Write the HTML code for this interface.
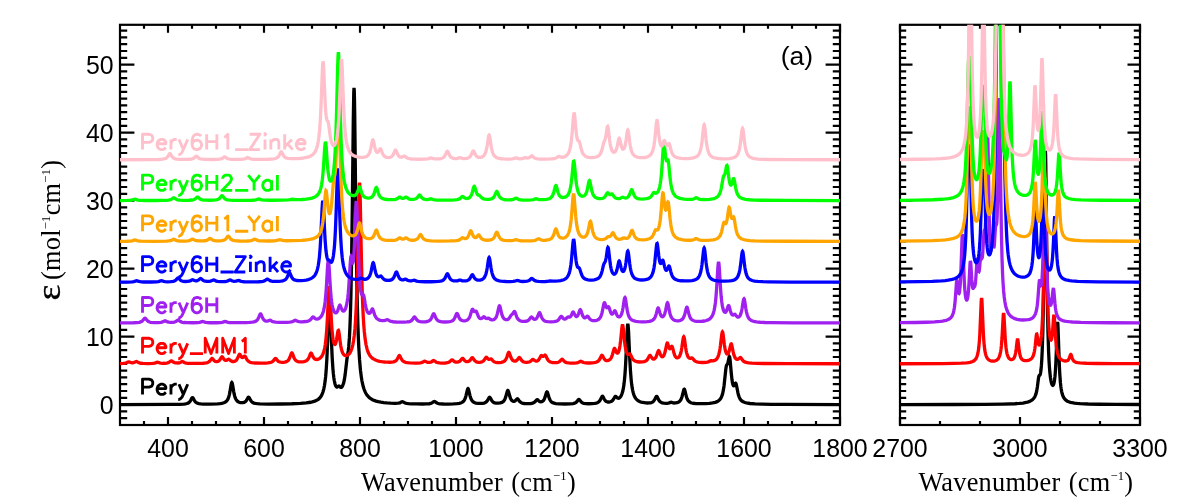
<!DOCTYPE html>
<html><head><meta charset="utf-8"><title>Spectra</title>
<style>html,body{margin:0;padding:0;background:#fff;}body{width:1200px;height:500px;overflow:hidden;position:relative;font-family:"Liberation Sans",sans-serif;}</style>
</head><body>
<svg width="1200" height="500" viewBox="0 0 1200 500" style="position:absolute;left:0;top:0;will-change:transform">
<defs><clipPath id="c1"><rect x="120.00" y="24.80" width="720.00" height="400.20"/></clipPath>
<clipPath id="c2"><rect x="900.00" y="24.80" width="240.00" height="400.20"/></clipPath></defs>
<rect width="1200" height="500" fill="#fff"/>
<g fill="none" stroke-width="2.85" stroke-linejoin="round" stroke-linecap="butt">
<path stroke="#000000" d="M142.52 394.40L142.52 379.09L149.08 379.09L151.26 379.82L151.99 380.55L152.72 382.01L152.72 384.19L151.99 385.65L151.26 386.38L149.08 387.11L142.52 387.11M157.10 388.57L165.84 388.57L165.84 387.11L165.11 385.65L164.39 384.92L162.93 384.19L160.74 384.19L159.28 384.92L157.82 386.38L157.10 388.57L157.10 390.03L157.82 392.21L159.28 393.67L160.74 394.40L162.93 394.40L164.39 393.67L165.84 392.21M170.95 384.19L170.95 394.40M170.95 388.57L171.68 386.38L173.13 384.92L174.59 384.19L176.78 384.19M178.97 384.19L183.34 394.40M187.71 384.19L183.34 394.40L181.88 397.32L180.42 398.77L178.97 399.50L178.24 399.50"/>
<path stroke="#ff0000" d="M142.52 353.60L142.52 338.29L149.08 338.29L151.26 339.02L151.99 339.75L152.72 341.21L152.72 343.39L151.99 344.85L151.26 345.58L149.08 346.31L142.52 346.31M157.10 347.77L165.84 347.77L165.84 346.31L165.11 344.85L164.39 344.12L162.93 343.39L160.74 343.39L159.28 344.12L157.82 345.58L157.10 347.77L157.10 349.23L157.82 351.41L159.28 352.87L160.74 353.60L162.93 353.60L164.39 352.87L165.84 351.41M170.95 343.39L170.95 353.60M170.95 347.77L171.68 345.58L173.13 344.12L174.59 343.39L176.78 343.39M178.97 343.39L183.34 353.60M187.71 343.39L183.34 353.60L181.88 356.52L180.42 357.97L178.97 358.70L178.24 358.70M189.90 353.60L203.02 353.60M205.21 353.60L205.21 338.29L211.04 353.60L216.87 338.29L216.87 353.60M222.71 353.60L222.71 338.29L228.54 353.60L234.37 338.29L234.37 353.60M241.66 341.21L243.12 340.48L245.31 338.29L245.31 353.60"/>
<path stroke="#a020f0" d="M142.52 312.80L142.52 297.49L149.08 297.49L151.26 298.22L151.99 298.95L152.72 300.41L152.72 302.59L151.99 304.05L151.26 304.78L149.08 305.51L142.52 305.51M157.10 306.97L165.84 306.97L165.84 305.51L165.11 304.05L164.39 303.32L162.93 302.59L160.74 302.59L159.28 303.32L157.82 304.78L157.10 306.97L157.10 308.43L157.82 310.61L159.28 312.07L160.74 312.80L162.93 312.80L164.39 312.07L165.84 310.61M170.95 302.59L170.95 312.80M170.95 306.97L171.68 304.78L173.13 303.32L174.59 302.59L176.78 302.59M178.97 302.59L183.34 312.80M187.71 302.59L183.34 312.80L181.88 315.72L180.42 317.17L178.97 317.90L178.24 317.90M200.84 299.68L200.11 298.22L197.92 297.49L196.46 297.49L194.28 298.22L192.82 300.41L192.09 304.05L192.09 307.70L192.82 310.61L194.28 312.07L196.46 312.80L197.19 312.80L199.38 312.07L200.84 310.61L201.56 308.43L201.56 307.70L200.84 305.51L199.38 304.05L197.19 303.32L196.46 303.32L194.28 304.05L192.82 305.51L192.09 307.70M206.67 297.49L206.67 312.80M216.87 297.49L216.87 312.80M206.67 304.78L216.87 304.78"/>
<path stroke="#0000ff" d="M142.52 272.00L142.52 256.69L149.08 256.69L151.26 257.42L151.99 258.15L152.72 259.61L152.72 261.79L151.99 263.25L151.26 263.98L149.08 264.71L142.52 264.71M157.10 266.17L165.84 266.17L165.84 264.71L165.11 263.25L164.39 262.52L162.93 261.79L160.74 261.79L159.28 262.52L157.82 263.98L157.10 266.17L157.10 267.63L157.82 269.81L159.28 271.27L160.74 272.00L162.93 272.00L164.39 271.27L165.84 269.81M170.95 261.79L170.95 272.00M170.95 266.17L171.68 263.98L173.13 262.52L174.59 261.79L176.78 261.79M178.97 261.79L183.34 272.00M187.71 261.79L183.34 272.00L181.88 274.92L180.42 276.37L178.97 277.10L178.24 277.10M200.84 258.88L200.11 257.42L197.92 256.69L196.46 256.69L194.28 257.42L192.82 259.61L192.09 263.25L192.09 266.90L192.82 269.81L194.28 271.27L196.46 272.00L197.19 272.00L199.38 271.27L200.84 269.81L201.56 267.63L201.56 266.90L200.84 264.71L199.38 263.25L197.19 262.52L196.46 262.52L194.28 263.25L192.82 264.71L192.09 266.90M206.67 256.69L206.67 272.00M216.87 256.69L216.87 272.00M206.67 263.98L216.87 263.98M220.52 272.00L233.64 272.00M235.10 256.69L245.31 256.69L235.10 272.00L245.31 272.00M249.68 256.69L250.41 257.42L251.14 256.69L250.41 255.96L249.68 256.69M250.41 261.79L250.41 272.00M256.24 261.79L256.24 272.00M256.24 264.71L258.43 262.52L259.89 261.79L262.07 261.79L263.53 262.52L264.26 264.71L264.26 272.00M270.09 256.69L270.09 272.00M277.38 261.79L270.09 269.08M273.01 266.17L278.11 272.00M281.76 266.17L290.50 266.17L290.50 264.71L289.77 263.25L289.05 262.52L287.59 261.79L285.40 261.79L283.94 262.52L282.48 263.98L281.76 266.17L281.76 267.63L282.48 269.81L283.94 271.27L285.40 272.00L287.59 272.00L289.05 271.27L290.50 269.81"/>
<path stroke="#ffa500" d="M142.52 231.20L142.52 215.89L149.08 215.89L151.26 216.62L151.99 217.35L152.72 218.81L152.72 220.99L151.99 222.45L151.26 223.18L149.08 223.91L142.52 223.91M157.10 225.37L165.84 225.37L165.84 223.91L165.11 222.45L164.39 221.72L162.93 220.99L160.74 220.99L159.28 221.72L157.82 223.18L157.10 225.37L157.10 226.83L157.82 229.01L159.28 230.47L160.74 231.20L162.93 231.20L164.39 230.47L165.84 229.01M170.95 220.99L170.95 231.20M170.95 225.37L171.68 223.18L173.13 221.72L174.59 220.99L176.78 220.99M178.97 220.99L183.34 231.20M187.71 220.99L183.34 231.20L181.88 234.12L180.42 235.57L178.97 236.30L178.24 236.30M200.84 218.08L200.11 216.62L197.92 215.89L196.46 215.89L194.28 216.62L192.82 218.81L192.09 222.45L192.09 226.10L192.82 229.01L194.28 230.47L196.46 231.20L197.19 231.20L199.38 230.47L200.84 229.01L201.56 226.83L201.56 226.10L200.84 223.91L199.38 222.45L197.19 221.72L196.46 221.72L194.28 222.45L192.82 223.91L192.09 226.10M206.67 215.89L206.67 231.20M216.87 215.89L216.87 231.20M206.67 223.18L216.87 223.18M224.16 218.81L225.62 218.08L227.81 215.89L227.81 231.20M235.10 231.20L248.22 231.20M248.22 215.89L254.05 223.18L254.05 231.20M259.88 215.89L254.05 223.18M271.55 220.99L271.55 231.20M271.55 223.18L270.09 221.72L268.63 220.99L266.45 220.99L264.99 221.72L263.53 223.18L262.80 225.37L262.80 226.83L263.53 229.01L264.99 230.47L266.45 231.20L268.63 231.20L270.09 230.47L271.55 229.01M277.38 215.89L277.38 231.20"/>
<path stroke="#00ff00" d="M142.52 190.40L142.52 175.09L149.08 175.09L151.26 175.82L151.99 176.55L152.72 178.01L152.72 180.19L151.99 181.65L151.26 182.38L149.08 183.11L142.52 183.11M157.10 184.57L165.84 184.57L165.84 183.11L165.11 181.65L164.39 180.92L162.93 180.19L160.74 180.19L159.28 180.92L157.82 182.38L157.10 184.57L157.10 186.03L157.82 188.21L159.28 189.67L160.74 190.40L162.93 190.40L164.39 189.67L165.84 188.21M170.95 180.19L170.95 190.40M170.95 184.57L171.68 182.38L173.13 180.92L174.59 180.19L176.78 180.19M178.97 180.19L183.34 190.40M187.71 180.19L183.34 190.40L181.88 193.32L180.42 194.77L178.97 195.50L178.24 195.50M200.84 177.28L200.11 175.82L197.92 175.09L196.46 175.09L194.28 175.82L192.82 178.01L192.09 181.65L192.09 185.30L192.82 188.21L194.28 189.67L196.46 190.40L197.19 190.40L199.38 189.67L200.84 188.21L201.56 186.03L201.56 185.30L200.84 183.11L199.38 181.65L197.19 180.92L196.46 180.92L194.28 181.65L192.82 183.11L192.09 185.30M206.67 175.09L206.67 190.40M216.87 175.09L216.87 190.40M206.67 182.38L216.87 182.38M222.71 178.74L222.71 178.01L223.44 176.55L224.16 175.82L225.62 175.09L228.54 175.09L230.00 175.82L230.73 176.55L231.45 178.01L231.45 179.47L230.73 180.92L229.27 183.11L221.98 190.40L232.18 190.40M235.10 190.40L248.22 190.40M248.22 175.09L254.05 182.38L254.05 190.40M259.88 175.09L254.05 182.38M271.55 180.19L271.55 190.40M271.55 182.38L270.09 180.92L268.63 180.19L266.45 180.19L264.99 180.92L263.53 182.38L262.80 184.57L262.80 186.03L263.53 188.21L264.99 189.67L266.45 190.40L268.63 190.40L270.09 189.67L271.55 188.21M277.38 175.09L277.38 190.40"/>
<path stroke="#ffc0cb" d="M142.52 149.60L142.52 134.29L149.08 134.29L151.26 135.02L151.99 135.75L152.72 137.21L152.72 139.39L151.99 140.85L151.26 141.58L149.08 142.31L142.52 142.31M157.10 143.77L165.84 143.77L165.84 142.31L165.11 140.85L164.39 140.12L162.93 139.39L160.74 139.39L159.28 140.12L157.82 141.58L157.10 143.77L157.10 145.23L157.82 147.41L159.28 148.87L160.74 149.60L162.93 149.60L164.39 148.87L165.84 147.41M170.95 139.39L170.95 149.60M170.95 143.77L171.68 141.58L173.13 140.12L174.59 139.39L176.78 139.39M178.97 139.39L183.34 149.60M187.71 139.39L183.34 149.60L181.88 152.52L180.42 153.97L178.97 154.70L178.24 154.70M200.84 136.48L200.11 135.02L197.92 134.29L196.46 134.29L194.28 135.02L192.82 137.21L192.09 140.85L192.09 144.50L192.82 147.41L194.28 148.87L196.46 149.60L197.19 149.60L199.38 148.87L200.84 147.41L201.56 145.23L201.56 144.50L200.84 142.31L199.38 140.85L197.19 140.12L196.46 140.12L194.28 140.85L192.82 142.31L192.09 144.50M206.67 134.29L206.67 149.60M216.87 134.29L216.87 149.60M206.67 141.58L216.87 141.58M224.16 137.21L225.62 136.48L227.81 134.29L227.81 149.60M235.10 149.60L248.22 149.60M249.68 134.29L259.88 134.29L249.68 149.60L259.88 149.60M264.26 134.29L264.99 135.02L265.72 134.29L264.99 133.56L264.26 134.29M264.99 139.39L264.99 149.60M270.82 139.39L270.82 149.60M270.82 142.31L273.01 140.12L274.46 139.39L276.65 139.39L278.11 140.12L278.84 142.31L278.84 149.60M284.67 134.29L284.67 149.60M291.96 139.39L284.67 146.68M287.59 143.77L292.69 149.60M296.33 143.77L305.08 143.77L305.08 142.31L304.35 140.85L303.62 140.12L302.17 139.39L299.98 139.39L298.52 140.12L297.06 141.58L296.33 143.77L296.33 145.23L297.06 147.41L298.52 148.87L299.98 149.60L302.17 149.60L303.62 148.87L305.08 147.41"/>
</g>
<rect x="120.00" y="24.80" width="720.00" height="400.20" fill="none" stroke="#000" stroke-width="2.2" /><path d="M168.00 425.00v-8M168.00 24.80v8M264.00 425.00v-8M264.00 24.80v8M360.00 425.00v-8M360.00 24.80v8M456.00 425.00v-8M456.00 24.80v8M552.00 425.00v-8M552.00 24.80v8M648.00 425.00v-8M648.00 24.80v8M744.00 425.00v-8M744.00 24.80v8M840.00 425.00v-8M840.00 24.80v8M144.00 425.00v-4M144.00 24.80v4M192.00 425.00v-4M192.00 24.80v4M216.00 425.00v-4M216.00 24.80v4M240.00 425.00v-4M240.00 24.80v4M288.00 425.00v-4M288.00 24.80v4M312.00 425.00v-4M312.00 24.80v4M336.00 425.00v-4M336.00 24.80v4M384.00 425.00v-4M384.00 24.80v4M408.00 425.00v-4M408.00 24.80v4M432.00 425.00v-4M432.00 24.80v4M480.00 425.00v-4M480.00 24.80v4M504.00 425.00v-4M504.00 24.80v4M528.00 425.00v-4M528.00 24.80v4M576.00 425.00v-4M576.00 24.80v4M600.00 425.00v-4M600.00 24.80v4M624.00 425.00v-4M624.00 24.80v4M672.00 425.00v-4M672.00 24.80v4M696.00 425.00v-4M696.00 24.80v4M720.00 425.00v-4M720.00 24.80v4M768.00 425.00v-4M768.00 24.80v4M792.00 425.00v-4M792.00 24.80v4M816.00 425.00v-4M816.00 24.80v4M120.00 418.20h7.20M840.00 418.20h-7.20M120.00 411.40h7.20M840.00 411.40h-7.20M120.00 404.60h14.40M840.00 404.60h-14.40M120.00 397.80h7.20M840.00 397.80h-7.20M120.00 391.00h7.20M840.00 391.00h-7.20M120.00 384.20h7.20M840.00 384.20h-7.20M120.00 377.40h7.20M840.00 377.40h-7.20M120.00 370.60h7.20M840.00 370.60h-7.20M120.00 363.80h7.20M840.00 363.80h-7.20M120.00 357.00h7.20M840.00 357.00h-7.20M120.00 350.20h7.20M840.00 350.20h-7.20M120.00 343.40h7.20M840.00 343.40h-7.20M120.00 336.60h14.40M840.00 336.60h-14.40M120.00 329.80h7.20M840.00 329.80h-7.20M120.00 323.00h7.20M840.00 323.00h-7.20M120.00 316.20h7.20M840.00 316.20h-7.20M120.00 309.40h7.20M840.00 309.40h-7.20M120.00 302.60h7.20M840.00 302.60h-7.20M120.00 295.80h7.20M840.00 295.80h-7.20M120.00 289.00h7.20M840.00 289.00h-7.20M120.00 282.20h7.20M840.00 282.20h-7.20M120.00 275.40h7.20M840.00 275.40h-7.20M120.00 268.60h14.40M840.00 268.60h-14.40M120.00 261.80h7.20M840.00 261.80h-7.20M120.00 255.00h7.20M840.00 255.00h-7.20M120.00 248.20h7.20M840.00 248.20h-7.20M120.00 241.40h7.20M840.00 241.40h-7.20M120.00 234.60h7.20M840.00 234.60h-7.20M120.00 227.80h7.20M840.00 227.80h-7.20M120.00 221.00h7.20M840.00 221.00h-7.20M120.00 214.20h7.20M840.00 214.20h-7.20M120.00 207.40h7.20M840.00 207.40h-7.20M120.00 200.60h14.40M840.00 200.60h-14.40M120.00 193.80h7.20M840.00 193.80h-7.20M120.00 187.00h7.20M840.00 187.00h-7.20M120.00 180.20h7.20M840.00 180.20h-7.20M120.00 173.40h7.20M840.00 173.40h-7.20M120.00 166.60h7.20M840.00 166.60h-7.20M120.00 159.80h7.20M840.00 159.80h-7.20M120.00 153.00h7.20M840.00 153.00h-7.20M120.00 146.20h7.20M840.00 146.20h-7.20M120.00 139.40h7.20M840.00 139.40h-7.20M120.00 132.60h14.40M840.00 132.60h-14.40M120.00 125.80h7.20M840.00 125.80h-7.20M120.00 119.00h7.20M840.00 119.00h-7.20M120.00 112.20h7.20M840.00 112.20h-7.20M120.00 105.40h7.20M840.00 105.40h-7.20M120.00 98.60h7.20M840.00 98.60h-7.20M120.00 91.80h7.20M840.00 91.80h-7.20M120.00 85.00h7.20M840.00 85.00h-7.20M120.00 78.20h7.20M840.00 78.20h-7.20M120.00 71.40h7.20M840.00 71.40h-7.20M120.00 64.60h14.40M840.00 64.60h-14.40M120.00 57.80h7.20M840.00 57.80h-7.20M120.00 51.00h7.20M840.00 51.00h-7.20M120.00 44.20h7.20M840.00 44.20h-7.20M120.00 37.40h7.20M840.00 37.40h-7.20M120.00 30.60h7.20M840.00 30.60h-7.20" fill="none" stroke="#000" stroke-width="2.2"/>
<rect x="900.00" y="24.80" width="240.00" height="400.20" fill="none" stroke="#000" stroke-width="2.2" /><path d="M900.00 425.00v-8M900.00 24.80v8M1020.00 425.00v-8M1020.00 24.80v8M1140.00 425.00v-8M1140.00 24.80v8M940.00 425.00v-4M940.00 24.80v4M980.00 425.00v-4M980.00 24.80v4M1060.00 425.00v-4M1060.00 24.80v4M1100.00 425.00v-4M1100.00 24.80v4M900.00 418.20h6.20M1140.00 418.20h-6.20M900.00 411.40h6.20M1140.00 411.40h-6.20M900.00 404.60h12.50M1140.00 404.60h-12.50M900.00 397.80h6.20M1140.00 397.80h-6.20M900.00 391.00h6.20M1140.00 391.00h-6.20M900.00 384.20h6.20M1140.00 384.20h-6.20M900.00 377.40h6.20M1140.00 377.40h-6.20M900.00 370.60h6.20M1140.00 370.60h-6.20M900.00 363.80h6.20M1140.00 363.80h-6.20M900.00 357.00h6.20M1140.00 357.00h-6.20M900.00 350.20h6.20M1140.00 350.20h-6.20M900.00 343.40h6.20M1140.00 343.40h-6.20M900.00 336.60h12.50M1140.00 336.60h-12.50M900.00 329.80h6.20M1140.00 329.80h-6.20M900.00 323.00h6.20M1140.00 323.00h-6.20M900.00 316.20h6.20M1140.00 316.20h-6.20M900.00 309.40h6.20M1140.00 309.40h-6.20M900.00 302.60h6.20M1140.00 302.60h-6.20M900.00 295.80h6.20M1140.00 295.80h-6.20M900.00 289.00h6.20M1140.00 289.00h-6.20M900.00 282.20h6.20M1140.00 282.20h-6.20M900.00 275.40h6.20M1140.00 275.40h-6.20M900.00 268.60h12.50M1140.00 268.60h-12.50M900.00 261.80h6.20M1140.00 261.80h-6.20M900.00 255.00h6.20M1140.00 255.00h-6.20M900.00 248.20h6.20M1140.00 248.20h-6.20M900.00 241.40h6.20M1140.00 241.40h-6.20M900.00 234.60h6.20M1140.00 234.60h-6.20M900.00 227.80h6.20M1140.00 227.80h-6.20M900.00 221.00h6.20M1140.00 221.00h-6.20M900.00 214.20h6.20M1140.00 214.20h-6.20M900.00 207.40h6.20M1140.00 207.40h-6.20M900.00 200.60h12.50M1140.00 200.60h-12.50M900.00 193.80h6.20M1140.00 193.80h-6.20M900.00 187.00h6.20M1140.00 187.00h-6.20M900.00 180.20h6.20M1140.00 180.20h-6.20M900.00 173.40h6.20M1140.00 173.40h-6.20M900.00 166.60h6.20M1140.00 166.60h-6.20M900.00 159.80h6.20M1140.00 159.80h-6.20M900.00 153.00h6.20M1140.00 153.00h-6.20M900.00 146.20h6.20M1140.00 146.20h-6.20M900.00 139.40h6.20M1140.00 139.40h-6.20M900.00 132.60h12.50M1140.00 132.60h-12.50M900.00 125.80h6.20M1140.00 125.80h-6.20M900.00 119.00h6.20M1140.00 119.00h-6.20M900.00 112.20h6.20M1140.00 112.20h-6.20M900.00 105.40h6.20M1140.00 105.40h-6.20M900.00 98.60h6.20M1140.00 98.60h-6.20M900.00 91.80h6.20M1140.00 91.80h-6.20M900.00 85.00h6.20M1140.00 85.00h-6.20M900.00 78.20h6.20M1140.00 78.20h-6.20M900.00 71.40h6.20M1140.00 71.40h-6.20M900.00 64.60h12.50M1140.00 64.60h-12.50M900.00 57.80h6.20M1140.00 57.80h-6.20M900.00 51.00h6.20M1140.00 51.00h-6.20M900.00 44.20h6.20M1140.00 44.20h-6.20M900.00 37.40h6.20M1140.00 37.40h-6.20M900.00 30.60h6.20M1140.00 30.60h-6.20" fill="none" stroke="#000" stroke-width="2.2"/>
<g clip-path="url(#c1)" fill="none" stroke-width="3.30" stroke-linejoin="miter" stroke-miterlimit="2" stroke-linecap="butt">
<path stroke="#000000" d="M120 404.54L170.16 404.43L179.04 404.29L183.84 404.04L185.52 403.83L186.96 403.51L187.92 403.15L188.88 402.58L189.6 401.92L190.08 401.32L190.56 400.56L191.76 398.28L192.24 397.7L192.48 397.62L192.72 397.7L193.2 398.27L194.64 400.94L195.6 402.14L196.32 402.71L197.04 403.1L198 403.45L198.96 403.67L200.88 403.93L203.28 404.07L210.48 404.12L217.44 403.88L219.84 403.66L221.76 403.37L223.92 402.79L224.88 402.37L225.6 401.93L226.32 401.34L227.04 400.54L228 398.93L228.72 397.07L229.44 394.34L229.92 391.92L231.12 384.63L231.6 382.79L231.84 382.53L232.08 382.78L232.56 384.61L233.76 391.86L234.24 394.27L234.72 396.18L235.44 398.26L235.92 399.27L236.4 400.05L237.36 401.14L238.56 401.96L239.28 402.27L240.24 402.54L241.68 402.71L242.88 402.67L244.08 402.39L245.04 401.92L245.76 401.31L246.24 400.74L246.72 400.02L247.92 397.81L248.4 397.25L248.64 397.18L248.88 397.27L249.36 397.86L250.56 400.17L251.28 401.26L252 402.03L252.72 402.55L253.92 403.1L255.36 403.46L257.28 403.73L259.92 403.9L268.08 404.05L280.8 403.98L292.08 403.73L300.48 403.35L306.24 402.87L310.56 402.25L312.24 401.89L313.92 401.43L315.36 400.91L316.56 400.36L318.24 399.32L319.68 398.04L320.88 396.52L322.08 394.32L323.04 391.77L323.76 389.14L324.48 385.57L325.2 380.6L325.68 376.16L326.16 370.48L326.88 358.75L327.6 341.97L328.8 306.43L329.28 297.4L329.52 296.1L329.76 297.26L330 300.71L330.24 306.01L331.44 340.82L332.16 357.14L332.88 368.37L333.36 373.68L333.84 377.72L334.32 380.77L335.04 383.97L335.52 385.39L335.76 385.92L336.24 386.66L336.72 387.01L337.2 387.01L337.68 386.73L338.4 386.13L338.88 385.97L339.36 386.17L340.32 387.06L340.8 387.33L341.28 387.34L341.52 387.24L342 386.81L342.48 386.07L342.96 385.02L343.68 382.75L344.4 379.45L345.12 374.85L346.8 360.31L347.28 356.89L348.24 351.04L348.72 346.92L349.44 337.16L349.92 327.38L350.4 314.16L350.88 296.56L351.6 259.3L352.32 206.07L353.28 121.23L353.76 92.81L354 87.81L354.24 90.13L354.48 99.46L354.72 114.62L355.92 219.85L356.4 255.61L356.88 284.15L357.36 306.37L357.84 323.59L358.32 336.99L358.8 347.52L359.52 359.42L360.48 370.4L361.44 377.88L361.92 380.74L362.64 384.25L363.36 387.04L364.08 389.29L365.04 391.68L366 393.54L366.96 395.03L368.16 396.49L369.36 397.64L370.8 398.72L372.48 399.68L374.16 400.42L376.08 401.07L378.24 401.63L380.88 402.14L383.76 402.55L386.88 402.88L390.48 403.14L395.04 403.31L398.16 403.18L399.84 402.83L401.76 401.89L402.48 401.71L403.2 401.93L404.64 402.77L405.6 403.15L406.8 403.44L408.48 403.65L411.6 403.84L416.4 403.96L422.4 404L426.48 403.93L429.12 403.74L430.8 403.41L432 402.91L433.68 401.71L434.16 401.48L434.4 401.45L434.64 401.48L435.12 401.71L436.56 402.78L437.52 403.27L438.72 403.61L440.16 403.82L443.52 404.01L448.56 404.04L453.36 403.92L456.96 403.68L459.36 403.33L461.28 402.76L462 402.42L462.72 401.96L463.44 401.31L463.92 400.74L464.64 399.57L465.36 397.84L466.08 395.37L467.28 390.13L467.76 388.81L468 388.63L468.24 388.81L468.72 390.13L469.92 395.35L470.4 397.08L471.12 399.02L471.84 400.35L472.8 401.49L473.52 402.05L474.24 402.45L475.92 403.03L478.08 403.36L480.24 403.46L482.4 403.35L484.08 403.05L485.28 402.61L486.24 401.98L486.96 401.23L487.68 400.16L488.88 397.89L489.36 397.31L489.6 397.23L489.84 397.31L490.32 397.88L491.52 400.13L492.24 401.19L493.2 402.1L494.16 402.63L494.88 402.87L495.84 403.07L498 403.18L500.16 402.94L501.84 402.42L502.8 401.87L503.52 401.25L504.24 400.35L504.72 399.53L505.2 398.47L505.68 397.11L507.12 391.74L507.6 390.58L507.84 390.41L508.08 390.56L508.56 391.69L509.76 396.16L510.48 398.24L511.2 399.64L511.68 400.29L512.16 400.75L512.64 401.07L513.36 401.32L514.08 401.33L514.56 401.19L515.04 400.93L515.52 400.53L516.96 398.97L517.44 398.82L517.92 399.1L519.6 401.36L520.08 401.86L520.8 402.42L521.52 402.81L522.24 403.07L523.2 403.31L524.4 403.5L526.56 403.65L528.96 403.64L530.88 403.49L532.56 403.15L533.52 402.79L534.48 402.2L535.2 401.52L536.4 400.07L536.88 399.69L537.12 399.62L537.6 399.75L539.04 401.1L540 401.69L540.96 401.86L541.68 401.75L542.16 401.56L542.88 401.07L543.36 400.59L543.84 399.92L544.32 399.04L545.04 397.21L546.24 393.19L546.72 392.09L546.96 391.9L547.2 392L547.44 392.36L547.68 392.96L548.88 397.07L549.6 399.06L550.08 400.05L550.8 401.13L551.76 402.07L552.72 402.66L554.16 403.19L555.84 403.54L559.68 403.9L564.96 404.02L570 403.92L573.12 403.59L574.56 403.22L575.76 402.61L576.72 401.76L578.16 399.88L578.64 399.48L578.88 399.42L579.12 399.47L579.6 399.87L580.8 401.45L581.76 402.39L582.72 402.95L583.92 403.35L585.84 403.64L588.72 403.75L592.08 403.66L594.72 403.39L596.16 403.1L597.36 402.7L598.32 402.18L599.04 401.59L599.76 400.74L600.24 399.98L601.92 396.57L602.16 396.3L602.4 396.2L602.64 396.27L603.12 396.87L604.32 399.27L604.8 400.05L605.28 400.66L606 401.3L606.96 401.79L607.92 402L609.12 402.01L610.32 401.78L611.52 401.24L612.48 400.47L613.44 399.22L614.88 396.77L615.36 396.37L615.6 396.34L615.84 396.43L617.28 397.83L618 398.22L618.72 398.23L619.2 398.05L619.68 397.73L620.16 397.26L620.64 396.63L621.36 395.35L622.08 393.54L622.8 391L623.52 387.37L624 384.09L624.48 379.87L624.96 374.39L625.44 367.34L625.92 358.45L627.12 331.66L627.6 324.9L627.84 323.97L628.08 324.91L628.56 331.7L629.76 358.56L630.48 371.23L631.2 380.07L631.68 384.34L632.16 387.66L632.64 390.27L633.36 393.22L634.08 395.36L635.04 397.39L636 398.81L637.2 400.05L638.64 401.05L640.08 401.73L641.28 402.13L642.72 402.48L645.84 402.9L647.52 402.98L648.96 402.94L650.16 402.82L651.36 402.56L652.08 402.29L652.8 401.88L653.76 401.01L654.72 399.55L655.92 397.08L656.4 396.46L656.64 396.38L656.88 396.47L657.36 397.11L658.56 399.63L659.52 401.13L660 401.65L660.72 402.21L661.44 402.6L662.16 402.86L663.84 403.22L666 403.35L667.2 403.29L668.16 403.16L669.12 402.9L670.56 402.36L671.04 402.29L671.76 402.39L673.2 402.84L674.16 402.99L675.6 402.97L677.04 402.72L678.24 402.27L679.2 401.68L680.16 400.72L680.88 399.61L681.6 397.98L682.08 396.5L683.76 389.87L684 389.37L684.24 389.2L684.48 389.38L684.96 390.64L686.4 396.52L686.88 398.01L687.36 399.17L688.08 400.45L688.8 401.32L689.76 402.1L690.96 402.7L691.92 403L693.12 403.26L696 403.59L700.32 403.72L705.36 403.64L709.44 403.38L712.56 402.98L715.2 402.38L717.12 401.64L718.08 401.1L719.04 400.37L719.76 399.65L720.48 398.72L721.2 397.49L721.68 396.44L722.16 395.13L722.64 393.5L723.36 390.19L724.08 385.48L725.76 369.63L726.24 366.37L726.48 365.41L726.72 364.85L727.44 364.07L727.68 363.61L727.92 362.88L728.88 358L729.12 357.04L729.36 356.61L729.6 356.88L729.84 357.93L730.08 359.71L731.28 373.25L732 379.84L732.48 382.81L732.96 384.71L733.2 385.29L733.44 385.65L733.68 385.79L733.92 385.74L734.4 385.12L735.12 383.61L735.36 383.26L735.6 383.14L735.84 383.33L736.08 383.85L736.56 385.76L738 393.18L738.48 395.04L739.2 397.15L740.16 399.05L741.12 400.28L742.32 401.3L743.76 402.08L744.96 402.53L746.4 402.92L750 403.5L755.04 403.89L762 404.16L771.84 404.33L786 404.43L840 404.54"/>
<path stroke="#ff0000" d="M120 363.6L123.12 363.45L125.04 363.19L126.24 362.86L127.92 362.06L128.64 361.87L129.12 361.93L130.56 362.5L131.28 362.7L132 362.79L132.96 362.75L133.92 362.53L135.6 361.71L136.32 361.54L136.8 361.65L138.48 362.58L139.44 362.95L140.88 363.25L142.8 363.43L148.08 363.54L152.64 363.39L154.8 363.06L156.72 362.38L157.44 362.25L157.92 362.3L159.6 362.88L160.8 363.15L162.72 363.3L164.88 363.27L166.8 363.06L168.24 362.68L169.2 362.19L170.88 360.98L171.36 360.85L171.6 360.88L172.08 361.1L173.28 361.99L174.24 362.51L175.2 362.8L176.4 362.97L177.84 362.98L179.28 362.77L180.24 362.45L181.92 361.58L182.4 361.5L183.12 361.7L184.32 362.4L185.28 362.81L186.48 363.1L187.92 363.29L190.8 363.43L194.88 363.46L199.44 363.4L203.04 363.24L206.16 362.87L207.36 362.57L208.32 362.16L209.04 361.7L209.52 361.29L210.24 360.46L211.44 358.83L211.92 358.5L212.16 358.5L212.64 358.8L214.08 360.52L215.04 361.27L215.52 361.49L216.24 361.65L216.96 361.66L217.68 361.52L218.64 361.06L219.36 360.43L220.08 359.49L221.28 357.43L221.76 356.89L222 356.81L222.24 356.86L222.48 357.04L224.16 359.5L224.64 359.98L225.12 360.29L225.6 360.45L226.32 360.41L227.04 360.07L228.24 359.23L228.72 359.13L229.2 359.32L230.64 360.65L231.36 361.14L232.32 361.5L233.52 361.58L234.48 361.39L235.2 361.07L235.92 360.56L236.4 360.07L236.88 359.42L237.36 358.59L239.04 354.76L239.28 354.44L239.52 354.28L239.76 354.31L240 354.51L241.44 356.91L241.92 357.41L242.16 357.54L242.4 357.59L242.88 357.48L244.32 356.18L244.56 356.09L244.8 356.12L245.04 356.28L245.52 356.95L246.96 359.68L247.92 360.9L248.64 361.49L249.6 362.03L250.56 362.37L251.76 362.65L255.12 363.02L260.4 363.17L265.92 363.07L267.84 362.94L269.52 362.73L271.2 362.29L272.4 361.67L273.36 360.81L274.8 358.91L275.28 358.5L275.52 358.43L275.76 358.48L276.24 358.87L277.44 360.42L277.92 360.93L278.4 361.33L279.12 361.75L279.84 362.02L280.8 362.23L282 362.33L283.2 362.31L284.88 362.09L286.32 361.65L287.28 361.13L288.24 360.28L288.96 359.29L289.44 358.39L289.92 357.25L291.12 353.82L291.6 352.95L291.84 352.82L292.08 352.94L292.56 353.79L294 357.75L294.48 358.75L294.96 359.52L295.68 360.36L296.4 360.93L297.12 361.31L298.08 361.63L299.04 361.82L300.24 361.92L302.64 361.85L303.84 361.67L304.8 361.44L305.76 361.08L306.48 360.68L307.44 359.89L308.4 358.6L309.12 357.15L310.32 354.07L310.8 353.27L311.04 353.13L311.28 353.2L311.52 353.47L313.2 357.11L313.68 357.89L314.4 358.71L315.12 359.18L316.08 359.47L317.04 359.48L318.24 359.2L319.44 358.61L320.64 357.66L321.6 356.54L322.56 354.93L323.28 353.26L324 351L324.72 347.86L325.2 345.06L325.92 339.35L326.64 331.01L327.36 319.06L328.56 293.75L329.04 287.28L329.28 286.32L329.52 287.11L329.76 289.51L330 293.22L331.2 317.59L331.92 328.86L332.64 336.37L333.12 339.74L333.6 342.09L334.08 343.59L334.56 344.35L334.8 344.47L335.04 344.41L335.28 344.17L335.52 343.75L336 342.32L336.48 340.1L337.92 331.24L338.16 330.52L338.4 330.38L338.64 330.85L339.12 333.41L340.08 341.15L340.8 346.09L341.52 349.57L342.24 351.92L342.72 353.02L343.44 354.2L344.16 354.94L344.88 355.38L345.6 355.59L346.56 355.55L347.52 355.21L348.24 354.74L348.96 354.08L349.68 353.19L350.4 352.02L350.88 351.05L351.84 348.52L352.8 344.87L353.52 341.03L354.24 335.78L354.96 328.45L355.44 321.91L356.16 308.44L356.88 288.68L357.6 260.29L358.8 200.09L359.28 184.9L359.52 182.81L359.76 184.93L360.24 200.17L361.44 260.49L361.92 280.52L362.4 296.44L362.88 308.81L363.36 318.4L363.84 325.87L364.32 331.74L365.04 338.38L366 344.51L366.96 348.69L367.44 350.29L368.16 352.26L368.88 353.82L369.6 355.08L370.32 356.11L371.28 357.22L372.24 358.1L373.44 358.96L374.64 359.63L376.08 360.26L377.76 360.81L379.68 361.28L381.84 361.67L384.48 361.99L387.12 362.18L389.76 362.24L391.68 362.17L393.36 361.93L394.32 361.66L395.04 361.35L395.76 360.88L396.24 360.45L397.2 359.16L398.64 356.27L399.12 355.65L399.36 355.57L399.6 355.66L400.08 356.31L401.28 358.84L401.76 359.68L402.48 360.63L403.2 361.28L404.16 361.85L405.6 362.35L407.28 362.67L409.68 362.9L415.68 363.08L418.08 363.03L420 362.89L421.2 362.7L422.16 362.41L422.88 362.08L424.08 361.39L424.8 361.18L425.28 361.25L426.72 361.98L427.68 362.32L428.64 362.46L429.6 362.44L430.56 362.25L431.28 361.97L432.96 360.84L433.68 360.56L433.92 360.59L434.4 360.81L435.6 361.73L436.32 362.17L437.04 362.48L438 362.75L439.44 362.96L441.12 363.06L443.28 363.07L445.2 362.99L447.36 362.69L448.8 362.22L449.76 361.63L451.44 360.07L451.92 359.84L452.16 359.84L452.64 360.06L454.08 361.31L455.04 361.86L456 362.12L457.2 362.17L458.4 361.94L459.12 361.63L459.6 361.33L460.56 360.4L461.76 358.81L462.24 358.4L462.48 358.34L462.72 358.39L463.2 358.77L464.4 360.29L465.36 361.14L466.32 361.58L467.52 361.69L468.48 361.49L469.44 360.95L470.4 359.95L471.6 358.19L472.08 357.75L472.32 357.69L472.56 357.76L472.8 357.95L474.48 360.36L474.96 360.9L475.68 361.48L476.4 361.86L477.36 362.16L478.56 362.33L479.76 362.33L480.72 362.22L481.68 361.97L482.4 361.66L483.12 361.19L484.08 360.19L485.76 357.62L486.24 357.29L486.48 357.31L486.72 357.43L487.92 358.76L488.64 359.29L489.36 359.37L490.32 359.03L490.8 358.94L491.28 359.09L491.76 359.5L492.72 360.58L493.44 361.26L494.16 361.74L494.88 362.07L495.84 362.34L497.04 362.52L498.24 362.58L499.68 362.55L501.36 362.35L502.8 361.97L504 361.38L504.96 360.58L505.68 359.66L506.4 358.29L506.88 357.08L508.08 353.42L508.56 352.49L508.8 352.35L509.04 352.47L509.28 352.82L510.96 357.56L511.44 358.6L511.92 359.4L512.4 360L513.12 360.61L513.84 360.96L514.56 361.12L515.52 361.04L516.48 360.6L517.44 359.67L518.88 357.72L519.12 357.56L519.36 357.51L519.6 357.59L520.08 358.07L521.28 359.93L522.24 361.03L523.2 361.69L523.92 361.99L524.64 362.18L525.84 362.35L527.04 362.37L528.24 362.23L529.2 361.98L530.4 361.35L532.08 359.77L532.56 359.45L532.8 359.39L533.04 359.4L533.52 359.63L534.48 360.41L535.2 360.84L535.92 361.06L536.64 361.05L537.6 360.71L538.08 360.38L538.56 359.91L539.28 358.9L540.72 356.16L541.2 355.61L541.44 355.52L541.68 355.54L542.88 356.26L543.36 356.28L543.84 356.02L544.56 355.34L545.04 355.11L545.28 355.17L545.76 355.71L547.44 359.23L547.92 359.99L548.64 360.84L549.36 361.42L550.32 361.94L551.28 362.26L552.48 362.51L553.92 362.66L555.6 362.67L557.04 362.53L558.24 362.23L558.96 361.91L559.68 361.42L561.36 359.64L561.84 359.31L562.08 359.26L562.32 359.31L562.8 359.66L564.24 361.28L565.2 362.01L565.92 362.36L566.64 362.6L568.56 362.95L570.48 363.09L572.64 363.13L574.56 363.08L576.24 362.94L577.2 362.77L578.16 362.49L580.08 361.48L580.8 361.28L581.52 361.47L582.72 362.14L583.68 362.53L585.6 362.89L587.52 362.99L589.68 362.98L592.08 362.85L594 362.64L595.44 362.36L596.64 361.99L597.6 361.51L598.32 360.98L599.04 360.22L599.52 359.53L600 358.67L601.2 356.07L601.68 355.4L601.92 355.29L602.16 355.35L602.64 355.93L603.84 358.27L604.32 359.03L604.8 359.6L605.52 360.18L606.48 360.55L607.44 360.61L608.4 360.41L609.36 359.93L610.08 359.34L610.56 358.79L611.04 358.08L611.52 357.16L612 355.98L612.48 354.5L613.92 349.24L614.16 348.71L614.4 348.44L614.64 348.44L614.88 348.7L616.08 351.6L616.56 352.53L616.8 352.84L617.04 353.04L617.28 353.14L617.52 353.13L618 352.77L618.48 351.97L618.96 350.65L619.44 348.73L619.92 346.08L620.64 340.46L621.84 328.23L622.32 325.13L622.56 324.71L622.8 325.16L623.28 328.33L624.48 340.74L625.2 346.48L625.92 350.33L626.64 352.72L627.12 353.69L627.36 354.02L627.84 354.4L628.32 354.44L629.52 353.87L629.76 353.88L630 354L630.24 354.24L630.72 355.07L632.16 358.15L632.64 358.93L633.36 359.8L634.08 360.43L635.04 361L636.24 361.46L637.44 361.75L639.84 362.01L642.24 361.97L644.16 361.66L645.6 361.1L646.56 360.43L647.28 359.64L648 358.51L649.2 356.11L649.68 355.47L649.92 355.35L650.16 355.39L650.4 355.57L651.84 357.82L652.56 358.62L653.04 358.92L653.52 359.05L654 359.01L654.48 358.82L655.2 358.21L655.92 357.13L656.64 355.45L657.84 351.75L658.32 350.77L658.56 350.6L658.8 350.68L659.04 350.98L660.48 354.67L661.2 355.98L661.44 356.26L661.92 356.61L662.4 356.7L662.88 356.54L663.36 356.12L663.84 355.4L664.56 353.69L665.28 351.02L666.72 344.08L666.96 343.39L667.2 343.04L667.44 343.06L667.68 343.43L668.88 347.32L669.36 348.4L669.6 348.69L669.84 348.81L670.08 348.75L670.32 348.54L671.52 346.47L671.76 346.31L672 346.4L672.24 346.76L672.72 348.18L674.16 353.79L674.64 355.13L675.12 356.14L675.84 357.16L676.56 357.72L677.04 357.88L677.52 357.89L678.24 357.64L678.96 357.03L679.68 355.94L680.4 354.2L680.88 352.54L681.36 350.35L681.84 347.56L683.04 339.06L683.52 336.91L683.76 336.63L684 336.94L684.48 339.14L685.68 347.79L686.16 350.63L686.64 352.87L687.12 354.59L687.84 356.4L688.32 357.21L689.04 357.99L689.52 358.25L690 358.34L690.48 358.28L691.44 357.95L691.92 357.96L692.16 358.06L692.64 358.47L694.32 360.43L695.28 361.16L696 361.53L696.96 361.86L698.16 362.14L699.36 362.31L702.72 362.48L706.08 362.32L707.28 362.13L708.24 361.87L710.4 360.88L710.88 360.74L711.36 360.71L713.04 360.86L714.24 360.65L714.96 360.35L715.68 359.9L716.4 359.25L716.88 358.69L717.84 357.08L718.32 355.95L718.8 354.49L719.52 351.48L720 348.74L720.48 345.29L721.68 334.9L722.16 332.23L722.4 331.82L722.64 332.12L722.88 333.09L723.12 334.59L724.32 344.41L725.04 348.88L725.76 351.77L726.24 352.97L726.72 353.71L727.2 354.04L727.68 353.97L728.16 353.51L728.64 352.6L729.36 350.34L730.56 345.12L730.8 344.38L731.04 343.95L731.28 343.91L731.52 344.27L731.76 345L733.2 352.15L733.92 354.95L734.64 356.86L735.12 357.75L735.6 358.41L736.08 358.88L736.56 359.19L737.04 359.36L737.52 359.39L738 359.27L738.48 359L739.92 357.66L740.4 357.49L740.64 357.56L741.12 358L742.56 360.12L743.52 361.14L744.72 361.9L746.16 362.42L748.56 362.86L751.92 363.16L756.72 363.37L763.68 363.51L788.16 363.68L840 363.75"/>
<path stroke="#a020f0" d="M120 322.92L133.68 322.77L137.04 322.59L139.2 322.32L140.64 321.94L141.84 321.34L142.8 320.49L144.24 318.62L144.72 318.21L144.96 318.16L145.2 318.21L145.68 318.61L147.36 320.72L147.84 321.14L148.56 321.6L149.52 321.99L150.72 322.27L153.84 322.57L158.16 322.6L161.04 322.35L162.48 321.97L164.4 320.97L165.12 320.77L165.84 320.96L167.52 321.84L168.72 322.19L170.64 322.4L172.8 322.34L174.24 322.11L175.2 321.8L176.16 321.27L177.36 320.38L177.84 320.15L178.08 320.12L178.32 320.16L178.8 320.39L180.48 321.61L181.68 322.12L182.64 322.35L183.84 322.52L186.96 322.7L193.2 322.76L197.76 322.62L199.68 322.36L201.84 321.63L202.56 321.5L203.04 321.56L204.72 322.16L205.92 322.45L207.6 322.63L210.24 322.74L216.24 322.75L220.32 322.6L222.24 322.33L224.4 321.6L225.12 321.47L225.84 321.6L227.28 322.13L228.24 322.37L229.68 322.56L231.36 322.66L235.2 322.72L241.2 322.7L246 322.61L249.6 322.45L252 322.22L253.92 321.87L255.36 321.38L256.56 320.63L257.28 319.9L258 318.84L258.72 317.35L259.92 314.41L260.16 314.04L260.4 313.86L260.64 313.87L260.88 314.09L261.12 314.47L262.56 317.89L263.28 319.15L264 320.01L264.96 320.69L265.92 321.03L267.12 321.1L268.08 320.88L269.52 320.28L270 320.23L270.48 320.36L271.92 321.23L272.88 321.67L274.08 322L275.76 322.23L278.64 322.38L282.72 322.41L286.8 322.33L289.68 322.15L291.12 321.94L292.32 321.63L293.28 321.2L294.48 320.49L295.2 320.27L295.92 320.44L297.12 321.08L297.84 321.38L299.28 321.69L300.48 321.79L302.16 321.8L305.76 321.51L307.92 321.06L308.88 320.71L309.6 320.34L310.32 319.81L310.8 319.34L312.48 317.29L312.96 317.02L313.44 317.11L314.88 318.35L315.84 318.88L316.8 319.03L318 318.83L319.2 318.27L320.16 317.54L321.12 316.47L322.08 314.91L322.8 313.26L323.52 310.98L324 308.96L324.48 306.4L325.2 301.13L325.92 293.44L326.4 286.6L327.6 265.99L328.08 260.75L328.32 260L328.56 260.68L328.8 262.69L329.04 265.77L330.24 286L330.72 292.68L331.2 297.95L331.68 302L332.16 305.09L332.64 307.44L333.12 309.21L333.84 311.08L334.56 312.22L335.04 312.66L335.52 312.88L336 312.86L336.24 312.77L336.72 312.38L336.96 312.09L337.44 311.27L338.16 309.43L339.12 306.36L339.6 305.33L339.84 305.15L340.08 305.23L340.32 305.54L341.52 308.71L342.24 310.21L342.48 310.55L342.96 310.97L343.44 311.09L343.92 310.94L344.64 310.24L345.12 309.44L345.6 308.34L346.08 306.89L346.56 305.03L347.04 302.62L347.76 297.67L348.24 293.18L348.72 287.48L350.16 264.47L350.64 258.47L350.88 256.8L351.12 256.15L351.36 256.42L351.6 257.39L352.32 261.44L352.56 262.3L352.8 262.61L353.04 262.27L353.28 261.21L353.52 259.37L354 253.18L354.48 243.55L355.92 205.27L356.16 202.03L356.4 201.17L356.64 202.89L357.12 213.06L358.32 251.61L359.04 269.41L359.52 277.97L360 284.33L360.48 288.91L360.96 292.03L361.44 293.91L361.68 294.45L361.92 294.75L362.16 294.85L362.88 294.56L363.12 294.55L363.36 294.74L363.6 295.2L364.08 297.04L365.28 304.12L366 307.69L366.72 310.22L367.2 311.42L367.68 312.31L368.16 312.92L368.64 313.29L369.12 313.4L369.6 313.27L370.08 312.85L370.56 312.13L372 309.17L372.24 308.96L372.48 308.96L372.72 309.2L373.2 310.27L374.16 313.4L374.88 315.41L375.36 316.45L376.08 317.62L376.8 318.46L377.76 319.23L378.96 319.87L380.4 320.35L382.32 320.68L384 320.67L384.96 320.48L386.64 319.76L387.36 319.62L388.08 319.88L389.28 320.65L390.24 321.12L391.44 321.47L393.12 321.75L396.24 322L400.32 322.12L404.16 322.11L407.04 321.95L408.48 321.76L409.44 321.54L410.4 321.19L411.12 320.79L411.84 320.19L412.32 319.65L414 317.24L414.24 317.06L414.48 316.99L414.72 317.06L415.2 317.51L416.4 319.33L417.12 320.18L417.84 320.77L418.8 321.27L420.24 321.66L421.92 321.86L424.08 321.89L426 321.74L427.44 321.47L428.64 321.06L429.6 320.49L430.32 319.84L431.04 318.87L431.52 317.99L433.2 314.08L433.44 313.78L433.68 313.68L433.92 313.78L434.4 314.53L435.6 317.48L436.32 318.88L437.28 320.09L438.24 320.82L439.68 321.42L441.84 321.83L444.96 321.99L448.08 321.87L449.76 321.64L451.2 321.27L452.4 320.72L453.36 319.98L454.08 319.11L454.56 318.32L455.04 317.33L456.24 314.34L456.72 313.58L456.96 313.47L457.2 313.56L457.68 314.29L458.88 317.19L459.36 318.14L459.84 318.89L460.56 319.69L461.52 320.34L462.48 320.68L463.68 320.85L464.88 320.8L466.08 320.53L467.28 319.98L468.24 319.2L468.96 318.29L469.68 316.96L470.16 315.76L471.84 310.22L472.08 309.69L472.32 309.39L472.56 309.31L472.8 309.43L473.04 309.72L473.76 310.88L474.24 311.4L474.72 311.5L475.68 311.08L475.92 311.1L476.16 311.25L476.64 312.02L477.84 315.24L478.56 316.81L479.28 317.85L480 318.44L480.72 318.65L481.44 318.53L482.16 318.07L483.36 316.97L483.84 316.81L484.32 316.98L485.52 318.07L486.24 318.49L486.96 318.54L488.16 318.16L488.64 318.15L489.12 318.34L490.32 319.26L491.04 319.69L491.76 319.91L492.72 319.94L493.44 319.77L493.92 319.57L494.88 318.87L495.6 318.01L496.32 316.7L496.8 315.49L497.28 313.92L498.96 306.67L499.2 306.06L499.44 305.8L499.68 305.91L499.92 306.38L500.16 307.16L501.6 313.52L502.08 315.15L502.8 316.93L503.52 318.11L504.24 318.88L504.96 319.35L505.92 319.67L506.64 319.71L507.36 319.57L508.08 319.23L508.8 318.64L509.52 317.73L510.96 315.38L511.44 314.85L512.64 313.86L513.84 311.92L514.08 311.62L514.32 311.46L514.56 311.48L514.8 311.72L515.04 312.14L516.72 316.85L517.2 317.88L517.68 318.69L518.4 319.57L519.12 320.18L520.08 320.71L521.28 321.11L522.72 321.36L524.4 321.42L526.08 321.25L527.28 320.91L528 320.55L528.72 320.02L529.44 319.24L530.64 317.57L531.12 317.12L531.36 317.04L531.84 317.18L533.28 318.71L534 319.22L534.72 319.41L535.44 319.28L536.16 318.82L536.88 317.95L537.6 316.57L538.8 313.54L539.28 312.78L539.52 312.68L539.76 312.81L540.24 313.64L541.44 316.88L542.16 318.41L543.12 319.74L544.08 320.55L544.8 320.94L545.76 321.3L547.92 321.72L551.04 321.87L554.16 321.69L555.36 321.48L556.32 321.21L557.04 320.91L557.76 320.47L558.48 319.83L558.96 319.26L560.64 316.68L561.12 316.37L561.36 316.4L561.84 316.78L562.8 318.03L563.52 318.76L564 319.04L564.48 319.17L564.96 319.15L565.68 318.85L566.16 318.48L567.36 317.28L567.84 316.99L568.32 316.94L569.52 317.18L570 317.05L570.48 316.68L570.96 316.03L571.44 315.11L572.4 312.86L572.88 312.11L573.12 312L573.36 312.07L573.6 312.33L574.8 314.83L575.52 315.99L575.76 316.24L576.24 316.52L576.72 316.52L576.96 316.41L577.44 315.98L577.92 315.24L578.64 313.52L579.6 310.64L580.08 309.74L580.32 309.63L580.56 309.79L581.04 310.78L582 313.87L582.72 315.78L583.2 316.68L583.92 317.52L584.4 317.79L585.12 317.82L585.84 317.42L587.04 316.35L587.52 316.26L587.76 316.37L588.24 316.86L589.2 318.28L589.92 319.17L590.88 319.95L591.6 320.3L592.56 320.58L593.76 320.71L594.96 320.66L595.92 320.52L596.88 320.25L598.32 319.56L599.04 319L599.52 318.51L600.48 317.12L601.2 315.53L601.92 313.21L602.64 309.98L603.6 304.88L604.08 303.1L604.32 302.7L604.56 302.67L604.8 302.98L606 306.54L606.48 307.47L606.72 307.69L606.96 307.75L607.2 307.67L608.16 306.77L608.4 306.71L608.64 306.84L608.88 307.18L609.36 308.4L610.56 312.2L611.04 313.24L611.52 313.89L612 314.15L612.24 314.14L612.72 313.84L613.2 313.21L614.4 311.06L614.64 310.85L614.88 310.82L615.12 310.98L615.36 311.32L616.8 314.75L617.28 315.64L617.76 316.28L618.24 316.7L618.72 316.9L619.44 316.86L619.92 316.61L620.64 315.85L621.12 315.03L621.6 313.89L622.08 312.34L622.56 310.3L623.04 307.68L624.24 299.69L624.72 297.69L624.96 297.43L625.2 297.74L625.68 299.86L626.88 308.15L627.36 310.9L628.08 313.99L628.8 316.11L629.28 317.15L629.76 317.96L630.24 318.61L630.96 319.36L631.68 319.91L632.4 320.33L634.08 320.98L636 321.4L638.4 321.69L641.52 321.85L644.64 321.83L647.28 321.67L649.44 321.37L651.12 320.93L652.32 320.39L653.28 319.71L654 318.97L654.72 317.9L655.2 316.92L655.68 315.68L656.16 314.12L657.36 309.4L657.84 308.17L658.08 307.97L658.32 308.08L658.56 308.48L659.04 309.91L660 313.29L660.48 314.61L660.96 315.57L661.44 316.22L661.92 316.59L662.4 316.72L662.88 316.62L663.36 316.28L663.84 315.69L664.32 314.8L664.8 313.53L665.52 310.81L666.96 303.7L667.2 303.02L667.44 302.74L667.68 302.9L667.92 303.49L668.16 304.43L669.6 312.01L670.08 313.97L670.56 315.51L671.28 317.19L672 318.34L672.96 319.34L673.92 319.98L674.88 320.38L676.08 320.67L677.28 320.8L678.48 320.78L679.68 320.6L680.64 320.3L681.6 319.81L682.32 319.23L683.28 318.03L683.76 317.15L684.24 316L684.96 313.65L686.16 308.68L686.64 307.42L686.88 307.25L687.12 307.42L687.6 308.69L688.8 313.7L689.28 315.36L689.76 316.68L690.24 317.7L690.72 318.49L691.2 319.1L691.92 319.78L692.88 320.39L693.84 320.78L695.04 321.08L696.48 321.29L698.4 321.4L700.32 321.38L702.24 321.26L704.16 321.01L706.32 320.53L708 319.91L709.44 319.1L710.64 318.08L711.6 316.9L712.56 315.21L713.28 313.42L714 310.93L714.48 308.72L714.96 305.89L715.44 302.26L715.92 297.56L716.64 288.06L717.84 267.94L718.32 262.83L718.56 262.1L718.8 262.76L719.04 264.73L719.28 267.74L720.72 290.96L721.2 296.77L721.68 301.27L722.4 306.08L723.12 309.19L723.84 311.11L724.32 311.88L724.8 312.3L725.28 312.37L725.52 312.27L726 311.8L726.24 311.42L726.96 309.66L727.92 306.56L728.16 305.97L728.4 305.61L728.64 305.53L728.88 305.76L729.36 307.01L730.32 310.74L731.04 313L731.52 314.02L732 314.69L732.48 315.04L732.96 315.1L733.44 314.92L734.4 314.3L734.88 314.26L735.36 314.59L736.56 316.14L737.28 316.81L737.76 317.03L738.24 317.08L738.96 316.81L739.68 316.11L740.16 315.35L740.64 314.29L741.12 312.84L741.6 310.92L742.08 308.45L743.28 300.93L743.76 299.05L744 298.81L744.24 299.11L744.72 301.11L745.92 308.96L746.4 311.57L747.12 314.51L747.84 316.52L748.8 318.29L749.52 319.17L750.24 319.82L750.96 320.31L751.92 320.8L753.84 321.42L756.48 321.89L760.08 322.24L765.12 322.48L771.84 322.65L794.4 322.84L840 322.93"/>
<path stroke="#0000ff" d="M120 282.13L128.16 282.06L132 281.9L133.92 281.63L136.08 280.9L136.8 280.77L137.28 280.83L138.96 281.43L140.16 281.71L141.6 281.88L143.76 281.98L151.2 282.02L156.24 281.85L158.4 281.56L160.56 280.82L161.28 280.68L162 280.81L163.68 281.39L165.12 281.65L167.52 281.78L170.64 281.69L173.04 281.38L174 281.11L174.72 280.81L175.44 280.36L175.92 279.95L177.6 278.13L178.08 277.94L178.56 278.12L180.24 279.91L180.72 280.31L181.44 280.75L182.16 281.04L183.12 281.29L185.28 281.51L187.44 281.46L189.12 281.2L190.08 280.88L191.76 279.94L192.48 279.72L192.96 279.79L194.4 280.47L195.12 280.7L195.84 280.8L196.8 280.75L197.52 280.55L198.24 280.19L199.92 278.77L200.4 278.5L200.64 278.46L201.12 278.63L202.8 280.15L203.76 280.75L205.2 281.22L207.12 281.45L209.04 281.41L210.48 281.18L211.44 280.84L213.12 279.96L213.6 279.88L214.32 280.08L216.24 281.09L217.68 281.47L220.56 281.71L224.16 281.65L225.6 281.5L226.8 281.25L227.76 280.88L229.44 279.97L229.92 279.87L230.64 280.05L231.84 280.7L232.56 281L233.28 281.18L234.24 281.29L235.92 281.2L237.84 280.62L238.56 280.51L239.28 280.66L240.48 281.13L241.44 281.41L242.64 281.61L244.08 281.74L250.32 281.86L258.48 281.74L261.6 281.53L262.8 281.35L263.76 281.12L264.96 280.6L266.64 279.37L267.12 279.13L267.36 279.09L267.6 279.12L268.08 279.34L269.28 280.23L270 280.65L271.44 281.12L272.64 281.3L274.32 281.41L278.4 281.35L280.8 281.14L282.72 280.8L284.16 280.33L285.36 279.62L286.08 278.94L286.8 277.96L287.52 276.54L288.72 273.56L289.2 272.8L289.44 272.69L289.68 272.78L290.16 273.52L291.6 276.94L292.08 277.8L292.56 278.47L293.04 278.99L293.76 279.54L294.48 279.92L295.44 280.24L297.12 280.52L299.04 280.62L301.44 280.56L303.84 280.36L306.24 280.01L308.16 279.58L309.84 279.05L311.28 278.4L312.96 277.31L314.16 276.16L315.12 274.89L316.08 273.13L316.8 271.32L317.52 268.9L318.24 265.56L318.72 262.61L319.44 256.59L320.16 247.81L320.88 235.26L322.08 208.68L322.56 201.86L322.8 200.83L323.04 201.62L323.28 204.11L323.52 207.95L324.72 233.21L325.2 241.42L325.92 250.27L326.64 255.72L327.12 257.92L327.36 258.67L327.84 259.6L328.32 259.96L329.04 260.15L329.28 260.29L330.72 262.06L330.96 262.22L331.2 262.27L331.44 262.19L331.68 261.98L332.16 261.13L332.64 259.66L333.36 256.06L334.08 250.27L334.56 244.74L335.04 237.43L335.52 227.88L336 215.75L337.2 178.95L337.44 173.34L337.68 169.69L337.92 168.46L338.16 169.83L338.64 179.38L339.84 216.94L340.32 229.41L340.8 239.33L341.28 247.05L341.76 253.04L342.24 257.71L342.72 261.39L343.44 265.56L344.16 268.59L345.12 271.49L345.6 272.59L346.32 273.94L347.04 275.01L347.76 275.87L348.48 276.57L349.44 277.31L350.4 277.9L351.36 278.36L352.56 278.8L353.76 279.12L355.92 279.44L357.6 279.42L358.8 279.15L360.48 278.32L361.2 278.13L361.68 278.22L363.6 279.1L364.32 279.25L365.28 279.27L366 279.16L366.72 278.93L367.92 278.23L368.64 277.52L369.36 276.49L369.84 275.53L370.32 274.29L370.8 272.68L371.28 270.64L372.48 264.5L372.96 262.93L373.2 262.71L373.44 262.91L373.92 264.43L375.12 270.46L375.6 272.42L376.32 274.56L377.04 275.89L377.76 276.63L378.48 276.88L379.2 276.72L380.4 276.02L380.88 276.01L381.36 276.34L382.8 278.22L383.76 279.16L384.96 279.85L386.4 280.25L388.08 280.39L389.76 280.27L391.2 279.87L391.92 279.51L392.4 279.16L393.12 278.44L393.84 277.37L394.56 275.82L395.76 272.69L396 272.26L396.24 272.03L396.48 272.01L396.72 272.21L396.96 272.6L398.16 275.72L398.88 277.3L399.6 278.4L400.56 279.3L401.52 279.77L402 279.89L402.72 279.94L403.44 279.84L405.12 279.21L405.6 279.17L406.08 279.3L407.52 280.17L408.24 280.51L408.96 280.73L409.92 280.88L411.36 280.84L413.52 280.27L414 280.24L414.72 280.4L416.64 281.13L418.08 281.42L420.72 281.63L425.28 281.74L430.8 281.74L435.12 281.65L438.24 281.45L440.4 281.16L441.6 280.86L442.56 280.47L443.28 280.05L444 279.43L444.72 278.53L445.2 277.71L446.88 274.08L447.12 273.8L447.36 273.7L447.6 273.8L448.08 274.48L449.52 277.66L450.48 279.09L451.2 279.77L451.92 280.23L452.64 280.53L453.6 280.79L455.04 280.97L456.48 280.94L457.44 280.78L459.12 280.22L459.84 280.1L460.56 280.22L462.24 280.78L463.44 280.95L465.36 280.91L467.04 280.58L467.76 280.31L468.48 279.92L469.44 279.09L470.4 277.72L471.6 275.41L472.08 274.82L472.32 274.74L472.56 274.81L473.04 275.36L474.24 277.57L474.72 278.3L475.2 278.86L475.92 279.46L476.88 279.93L477.84 280.15L478.8 280.22L480 280.13L480.96 279.92L481.68 279.67L482.4 279.31L483.12 278.82L483.84 278.13L484.32 277.51L484.8 276.74L485.28 275.74L486 273.67L486.72 270.64L487.2 267.93L488.4 259.76L488.88 257.7L489.12 257.42L489.36 257.71L489.84 259.78L491.04 267.98L491.52 270.71L492 272.87L492.72 275.24L493.2 276.39L493.68 277.29L494.64 278.57L495.36 279.23L496.08 279.71L497.76 280.45L499.2 280.83L501.12 281.15L503.52 281.38L506.16 281.52L510.24 281.58L513.12 281.46L514.8 281.2L516.72 280.53L517.44 280.4L518.16 280.53L519.84 281.12L521.04 281.35L522.96 281.48L525.12 281.43L527.04 281.2L528.48 280.79L529.68 280.08L531.36 278.57L531.84 278.42L532.08 278.46L532.56 278.75L534 280.08L534.96 280.67L536.4 281.15L538.56 281.44L541.92 281.56L545.52 281.48L547.44 281.31L550.08 280.84L552.96 281.16L555.36 281.17L558.24 280.96L560.64 280.61L562.32 280.23L563.76 279.74L564.96 279.16L566.16 278.3L567.12 277.3L567.84 276.27L568.56 274.86L569.28 272.89L569.76 271.14L570.24 268.89L570.96 264.24L571.68 257.59L572.88 243.48L573.36 239.84L573.6 239.28L573.84 239.68L574.08 240.98L574.32 242.99L575.28 253.66L576 260.29L576.48 263.39L576.72 264.56L577.2 266.24L577.44 266.79L577.92 267.42L578.88 267.75L579.36 268.23L579.84 269.28L581.52 274.48L582.24 276.05L582.96 277.17L583.92 278.19L585.12 278.98L586.32 279.48L588 279.87L589.92 280.08L592.08 280.08L594.24 279.86L595.92 279.48L597.36 278.9L598.56 278.13L599.52 277.17L600.24 276.13L600.96 274.68L601.68 272.63L602.16 270.86L603.36 265.69L603.84 264.12L604.32 263.16L605.04 262.1L605.52 260.86L606.24 257.32L607.44 248.79L607.68 247.72L607.92 247.27L608.16 247.5L608.4 248.43L608.64 249.94L610.08 262.57L610.56 265.84L611.04 268.37L611.52 270.28L612.24 272.27L612.72 273.14L613.44 273.94L614.16 274.22L614.64 274.14L614.88 274.02L615.6 273.29L616.08 272.44L616.56 271.22L617.04 269.58L618.72 261.83L618.96 261.22L619.2 260.98L619.44 261.14L619.68 261.67L621.12 267.87L621.6 269.5L622.08 270.62L622.56 271.28L623.04 271.51L623.52 271.33L624 270.73L624.72 268.94L625.44 265.81L625.92 262.83L627.12 253.55L627.36 252.13L627.6 251.23L627.84 250.95L628.08 251.35L628.56 253.93L629.76 263.92L630.24 267.24L630.72 269.87L631.2 271.93L631.92 274.19L632.64 275.75L633.36 276.87L633.84 277.43L634.56 278.09L635.76 278.85L637.44 279.49L639.36 279.86L641.76 280.02L644.4 279.88L646.56 279.47L647.52 279.17L648.48 278.74L649.44 278.15L650.16 277.55L650.88 276.75L651.36 276.08L652.32 274.21L652.8 272.91L653.28 271.25L654 267.84L654.72 262.9L656.4 246.17L656.64 244.5L656.88 243.53L657.12 243.38L657.36 244.04L657.6 245.4L658.8 256.01L659.28 259.44L659.76 261.81L660.24 263.16L660.48 263.48L660.72 263.57L660.96 263.45L661.44 262.69L662.4 260.44L662.64 260.21L662.88 260.27L663.12 260.66L663.36 261.34L664.56 266.62L665.04 268.37L665.52 269.58L665.76 269.98L666 270.24L666.24 270.37L666.48 270.37L666.96 269.99L667.44 269.13L668.64 266.23L668.88 265.98L669.12 266L669.36 266.31L669.84 267.68L670.8 271.61L671.52 274.12L672 275.4L672.72 276.83L673.68 278.1L674.88 279.09L676.32 279.8L678.24 280.34L681.12 280.76L684.72 280.95L688.56 280.9L691.92 280.6L694.08 280.17L695.76 279.56L697.2 278.67L697.92 278L698.4 277.44L699.12 276.32L699.84 274.76L700.56 272.52L701.04 270.47L701.52 267.83L702 264.45L703.44 251.1L703.92 248.23L704.16 247.84L704.4 248.24L704.88 251.11L706.08 262.48L706.8 267.85L707.52 271.59L708.24 274.15L708.72 275.39L709.2 276.37L709.92 277.49L710.64 278.31L711.36 278.92L712.32 279.52L713.52 280.04L714.72 280.4L717.6 280.9L721.2 281.16L725.52 281.2L729.36 280.98L731.76 280.64L733.68 280.12L734.64 279.7L735.36 279.29L736.56 278.29L737.52 277.02L738.24 275.62L738.96 273.6L739.44 271.76L739.92 269.38L740.4 266.34L741.84 254.33L742.32 251.75L742.56 251.39L742.8 251.75L743.28 254.34L744.48 264.58L744.96 267.98L745.68 271.8L746.4 274.42L746.88 275.68L747.36 276.68L747.84 277.47L748.56 278.38L749.28 279.05L750 279.56L750.96 280.07L752.16 280.51L754.56 281.06L757.92 281.45L762.48 281.71L768.72 281.88L790.8 282.07L840 282.15"/>
<path stroke="#ffa500" d="M120 241.33L126.96 241.26L130.32 241.09L132.24 240.79L134.16 240.12L134.88 239.99L135.6 240.12L137.04 240.65L138 240.89L139.44 241.09L141.36 241.2L153.84 241.3L166.08 241.16L168.72 240.98L170.4 240.69L171.6 240.26L173.28 239.35L173.76 239.26L174.48 239.45L175.92 240.24L176.88 240.6L178.08 240.85L179.76 241.01L184.32 241.08L187.92 240.86L188.88 240.69L189.84 240.41L191.76 239.4L192.48 239.2L193.2 239.39L194.88 240.29L196.32 240.71L198.72 240.95L202.32 240.97L204.96 240.76L206.64 240.38L207.84 239.81L209.52 238.6L210 238.48L210.24 238.51L210.72 238.73L212.4 239.93L213.12 240.26L213.84 240.48L214.8 240.67L216.24 240.81L219.84 240.82L221.52 240.68L222.72 240.49L223.68 240.23L224.64 239.81L225.36 239.32L225.84 238.88L227.52 236.61L228 236.18L228.24 236.12L228.48 236.18L228.96 236.61L230.64 238.89L231.12 239.34L231.84 239.83L232.8 240.25L233.76 240.52L234.96 240.72L236.64 240.88L239.52 241.01L243.6 241.05L247.2 241L249.6 240.85L251.04 240.65L252 240.4L252.96 240L254.16 239.31L254.88 239.12L255.36 239.21L257.04 240.11L258.24 240.53L259.68 240.78L261.84 240.94L268.56 241.01L274.56 240.83L276.96 240.51L279.12 239.76L279.84 239.62L280.56 239.75L282.48 240.39L284.16 240.64L287.04 240.75L291.84 240.71L301.44 240.32L305.28 240.01L308.4 239.64L311.04 239.16L313.2 238.59L315.12 237.84L316.56 237.04L317.52 236.31L318.48 235.36L319.2 234.44L319.92 233.25L320.64 231.69L321.12 230.36L321.6 228.71L322.08 226.66L322.8 222.5L323.52 216.54L324.24 208.27L325.2 195.43L325.68 191.16L325.92 190.35L326.16 190.55L326.4 191.69L326.88 195.96L327.84 206.04L328.32 209.71L328.8 212.12L329.04 212.88L329.28 213.35L329.52 213.55L329.76 213.48L330 213.15L330.48 211.7L330.96 209.12L331.44 205.33L331.92 200.28L333.36 182.14L333.84 178.59L334.08 177.56L334.8 175.21L335.04 173.88L335.52 169.27L335.76 165.72L336.48 149.3L337.92 102.81L338.16 98.89L338.4 97.87L338.64 99.97L339.12 112.31L340.32 159.34L341.04 181.44L341.76 196.89L342.24 204.38L342.72 210.24L343.44 216.79L344.16 221.49L344.88 224.95L345.84 228.27L346.32 229.54L347.04 231.09L347.76 232.32L348.48 233.29L349.2 234.06L350.16 234.83L350.88 235.26L351.84 235.64L353.04 235.82L353.76 235.73L354.24 235.58L354.72 235.32L355.2 234.95L355.92 234.08L356.64 232.68L357.12 231.35L357.6 229.64L358.8 224.4L359.28 223.1L359.52 222.95L359.76 223.17L360 223.75L361.68 231.19L362.16 232.85L362.64 234.16L363.12 235.18L363.84 236.3L364.56 237.09L365.28 237.64L366 238.04L366.96 238.39L367.92 238.6L368.88 238.69L369.84 238.65L370.56 238.53L371.28 238.3L372 237.92L372.96 237.06L373.68 236.01L374.4 234.46L375.6 231.13L376.08 230.3L376.32 230.2L376.56 230.33L377.04 231.22L378.24 234.69L378.96 236.33L379.68 237.48L380.4 238.27L381.6 239.1L383.04 239.66L384.72 240.03L387.12 240.31L389.52 240.43L391.92 240.44L393.84 240.34L395.28 240.14L396.24 239.88L396.96 239.58L397.68 239.14L398.88 238.18L399.6 237.88L399.84 237.9L400.32 238.09L401.76 238.95L402.24 239.11L402.96 239.18L403.92 238.95L405.36 238.09L405.84 237.91L406.08 237.89L406.8 238.19L408.48 239.45L409.2 239.79L409.92 240.01L410.88 240.19L412.08 240.27L413.28 240.24L414.48 240.1L415.44 239.88L416.16 239.61L416.88 239.2L417.36 238.83L418.32 237.7L419.76 235.19L420.24 234.65L420.48 234.58L420.72 234.66L421.2 235.21L422.64 237.77L423.6 238.92L424.32 239.48L425.04 239.86L426 240.21L427.2 240.47L429.12 240.72L431.52 240.87L439.2 241.03L450 240.96L453.6 240.84L456 240.65L457.92 240.34L459.36 239.87L460.32 239.31L462 237.92L462.48 237.73L462.96 237.77L464.4 238.46L465.12 238.62L465.6 238.61L466.08 238.49L466.8 238.1L467.52 237.4L468.24 236.29L468.96 234.66L470.16 231.41L470.4 231L470.64 230.79L470.88 230.8L471.12 231.03L471.36 231.45L472.56 234.58L473.28 236.07L473.76 236.75L474.48 237.39L475.2 237.63L475.68 237.59L476.16 237.39L476.88 236.79L478.08 235.28L478.56 234.95L478.8 234.95L479.28 235.3L480.96 237.89L481.92 238.88L482.64 239.35L483.36 239.68L484.32 239.96L485.28 240.13L487.44 240.26L489.6 240.12L491.28 239.73L492.48 239.15L493.44 238.34L494.16 237.39L494.88 236L496.08 233.07L496.56 232.33L496.8 232.23L497.04 232.33L497.28 232.63L498.96 236.57L499.44 237.45L500.16 238.42L500.88 239.09L501.84 239.67L503.04 240.11L504.48 240.42L507.84 240.71L511.44 240.69L513.36 240.43L515.28 239.78L516 239.66L516.72 239.79L518.64 240.47L520.8 240.79L525.36 240.93L531.12 240.82L533.52 240.63L535.2 240.32L536.4 239.87L538.08 238.92L538.56 238.81L539.04 238.89L540.72 239.73L541.92 240.1L543.6 240.28L545.52 240.24L547.68 239.98L549.6 239.46L550.32 239.13L551.04 238.69L552 237.8L552.72 236.78L553.44 235.3L553.92 233.99L555.12 230.05L555.6 229.04L555.84 228.89L556.08 229L556.56 229.94L557.76 233.68L558.24 234.91L558.72 235.86L559.44 236.88L560.16 237.52L561.12 238L562.32 238.2L563.52 238.09L564.72 237.7L565.68 237.16L566.64 236.33L567.36 235.44L568.08 234.22L568.8 232.53L569.28 231.02L569.76 229.09L570.48 225.1L571.2 219.25L571.68 214.04L572.88 198.34L573.36 194.37L573.6 193.82L573.84 194.36L574.08 195.92L575.76 216.69L576.24 221.33L576.96 226.45L577.68 229.92L578.16 231.6L578.64 232.91L579.12 233.94L579.84 235.1L580.56 235.91L581.28 236.48L582 236.86L582.72 237.07L583.44 237.13L584.16 237.03L584.88 236.76L585.36 236.45L586.08 235.74L586.56 235.05L587.28 233.56L588 231.29L588.48 229.24L589.68 223L590.16 221.44L590.4 221.24L590.64 221.48L590.88 222.13L592.56 230.69L593.04 232.6L593.76 234.72L594.48 236.17L595.44 237.44L596.64 238.39L598.08 239.05L599.76 239.44L601.68 239.58L603.36 239.46L604.8 239.06L606 238.35L607.44 236.99L607.92 236.67L608.4 236.54L609.6 236.57L610.32 236.25L611.04 235.43L612.48 232.96L612.72 232.75L612.96 232.7L613.2 232.82L613.68 233.5L614.88 236.08L615.6 237.28L616.56 238.3L617.04 238.64L617.76 238.98L618.48 239.19L619.2 239.3L620.64 239.21L621.6 238.91L623.04 238.09L623.76 237.84L624.24 237.87L625.92 238.42L626.88 238.4L627.6 238.14L628.08 237.83L628.8 237.1L629.28 236.39L630 234.91L631.44 230.99L631.68 230.58L631.92 230.37L632.16 230.4L632.4 230.66L632.64 231.12L634.08 235.13L634.8 236.63L635.52 237.66L636.48 238.54L637.2 238.96L637.92 239.25L638.88 239.51L640.08 239.7L642.96 239.8L645.84 239.57L647.76 239.22L649.2 238.77L650.4 238.19L651.36 237.5L652.32 236.46L653.04 235.32L653.76 233.78L654.96 230.72L655.44 229.91L655.68 229.71L655.92 229.64L657.12 230.01L657.6 229.86L658.08 229.32L658.56 228.33L659.04 226.81L659.52 224.67L660.24 219.97L660.96 213.02L662.16 197.89L662.64 193.74L662.88 192.92L663.12 193.06L663.36 194.08L664.8 206.58L665.28 209.13L665.52 209.8L665.76 210.06L666 209.92L666.24 209.4L666.72 207.39L667.68 202.32L667.92 201.82L668.16 201.97L668.4 202.83L668.88 206.39L670.08 218.77L670.8 224.52L671.28 227.4L671.76 229.65L672.24 231.42L672.72 232.82L673.2 233.95L673.92 235.26L674.64 236.24L675.36 236.99L676.32 237.75L677.28 238.31L678.48 238.83L679.68 239.22L681.84 239.69L684.48 240.03L687.6 240.24L690.48 240.25L691.92 240.14L693.12 239.92L694.08 239.58L695.76 238.7L696.24 238.61L696.96 238.82L698.64 239.73L700.08 240.15L702.48 240.41L706.08 240.43L710.16 240.22L713.28 239.82L715.68 239.23L716.64 238.85L717.6 238.33L718.56 237.6L719.28 236.83L720 235.79L720.72 234.32L721.2 233.01L721.68 231.36L723.12 224.77L723.6 223.02L723.84 222.51L724.08 222.28L724.32 222.3L725.28 223.43L725.52 223.58L725.76 223.58L726 223.38L726.24 222.97L726.48 222.33L726.72 221.46L727.2 219L728.64 208.7L728.88 207.69L729.12 207.24L729.36 207.42L729.6 208.16L730.8 215.28L731.28 217.33L731.52 217.96L731.76 218.3L732 218.38L732.24 218.23L733.2 216.72L733.44 216.62L733.68 216.85L733.92 217.44L734.4 219.65L735.36 225.75L736.08 229.64L736.8 232.47L737.52 234.45L738.48 236.22L738.96 236.86L739.68 237.61L740.4 238.19L741.36 238.76L743.28 239.52L746.16 240.14L749.76 240.55L755.04 240.85L762.24 241.05L786.48 241.26L840 241.35"/>
<path stroke="#00ff00" d="M120 200.53L126.96 200.46L130.32 200.3L132.24 199.99L134.16 199.32L134.88 199.19L135.6 199.32L137.04 199.85L138 200.09L139.44 200.29L141.36 200.4L146.16 200.48L155.28 200.49L162 200.43L166.08 200.32L168.72 200.08L170.4 199.69L171.6 199.12L173.28 197.91L173.76 197.79L174 197.82L174.48 198.05L175.68 198.95L176.64 199.49L177.6 199.81L178.56 200.01L180.24 200.19L182.64 200.29L189.12 200.24L192 200L192.96 199.83L193.92 199.54L195.12 198.91L196.8 197.4L197.28 197.11L197.52 197.07L197.76 197.11L198.24 197.39L199.44 198.53L200.4 199.2L201.36 199.61L202.32 199.86L204 200.09L206.4 200.22L209.76 200.25L212.88 200.17L216 199.89L217.2 199.63L218.16 199.28L218.88 198.87L219.6 198.28L221.28 196.16L221.76 195.76L222 195.71L222.24 195.76L222.72 196.16L224.4 198.29L224.88 198.71L225.6 199.17L226.56 199.56L227.52 199.81L230.16 200.14L233.52 200.29L238.8 200.36L246.96 200.36L252 200.26L254.16 200.13L255.6 199.93L256.56 199.69L258 199.15L258.72 199.02L259.44 199.15L260.88 199.67L261.84 199.91L264.48 200.18L271.2 200.26L282.72 200.14L288.48 199.9L289.92 199.72L292.32 199.29L295.2 199.62L297.6 199.68L301.92 199.5L306.24 199.12L309.36 198.67L312 198.07L314.16 197.31L315.84 196.39L316.8 195.67L317.76 194.7L318.72 193.39L319.44 192.06L320.16 190.3L320.64 188.78L321.12 186.89L321.6 184.5L322.32 179.64L323.04 172.6L323.52 166.37L324.72 147.6L325.2 142.74L325.44 141.96L325.68 142.44L325.92 144.1L326.16 146.7L327.36 163.87L327.84 169.41L328.32 173.63L329.04 177.88L329.52 179.62L330 180.67L330.48 181.14L330.72 181.18L330.96 181.1L331.44 180.58L331.68 180.13L332.16 178.85L332.64 177L333.12 174.49L333.84 169.1L334.56 161.02L335.04 153.51L335.52 143.69L336 130.97L336.48 114.88L337.68 66.24L337.92 58.82L338.16 53.98L338.4 52.32L338.64 54.08L339.12 66.55L340.32 115.75L341.04 138.97L341.52 150.43L342 159.32L342.48 166.22L342.96 171.62L343.68 177.69L344.4 182.05L345.12 185.28L346.08 188.39L346.56 189.58L347.28 191.04L348 192.19L348.72 193.12L349.44 193.85L350.4 194.61L351.12 195.03L352.08 195.43L353.28 195.66L354.48 195.54L355.44 195.08L356.16 194.41L356.88 193.31L357.36 192.26L359.04 187.42L359.28 187.07L359.52 186.97L359.76 187.13L360.24 188.17L361.44 192.16L362.16 194.04L362.88 195.36L363.84 196.5L364.56 197.05L365.28 197.44L366 197.71L366.96 197.93L367.92 198.03L368.88 198.03L369.84 197.9L370.56 197.7L371.28 197.38L372 196.89L372.72 196.14L373.2 195.44L373.68 194.52L374.16 193.34L375.6 188.62L376.08 187.61L376.32 187.48L376.56 187.63L377.04 188.69L378.24 192.83L378.72 194.21L379.2 195.3L379.92 196.51L380.88 197.56L382.08 198.34L383.52 198.89L385.2 199.25L387.36 199.5L389.76 199.63L392.16 199.64L394.08 199.53L395.52 199.3L396.72 198.91L397.44 198.51L398.88 197.4L399.36 197.14L399.6 197.1L400.08 197.18L401.76 198.16L402.24 198.32L402.96 198.39L403.92 198.17L405.36 197.31L405.84 197.12L406.08 197.11L406.8 197.41L408.48 198.66L409.44 199.09L410.4 199.32L411.36 199.44L413.52 199.4L415.2 199.04L416.4 198.43L417.36 197.55L419.04 195.31L419.28 195.14L419.52 195.09L420 195.32L421.68 197.59L422.64 198.48L423.84 199.11L425.28 199.46L426.48 199.56L427.68 199.51L428.64 199.34L430.32 198.82L430.8 198.78L431.28 198.85L432.96 199.5L433.92 199.76L435.36 199.97L437.04 200.1L440.88 200.2L446.4 200.21L451.2 200.13L454.56 199.97L457.2 199.65L458.88 199.17L460.08 198.49L461.76 196.88L462.24 196.56L462.48 196.5L462.72 196.52L463.2 196.76L464.16 197.58L464.88 198.07L465.84 198.43L466.56 198.52L467.52 198.44L468.48 198.15L469.2 197.76L469.92 197.17L470.4 196.62L470.88 195.9L471.36 194.97L471.84 193.76L472.32 192.24L473.52 187.63L474 186.44L474.24 186.25L474.48 186.38L474.72 186.8L476.4 192.41L476.88 193.55L477.36 194.34L478.08 194.98L479.28 195.38L479.76 195.69L481.44 197.51L482.4 198.27L483.6 198.84L484.8 199.15L486.96 199.38L489.36 199.29L491.04 198.96L491.76 198.7L492.48 198.32L493.44 197.51L494.16 196.55L494.88 195.17L496.08 192.24L496.56 191.5L496.8 191.4L497.04 191.5L497.28 191.8L498.96 195.74L499.44 196.62L500.16 197.6L500.88 198.27L501.84 198.85L503.04 199.28L504.24 199.55L505.92 199.75L507.84 199.86L509.76 199.87L511.44 199.76L512.4 199.61L513.36 199.35L515.28 198.37L516 198.18L516.72 198.38L518.16 199.19L519.12 199.55L520.56 199.85L522.48 200.01L527.28 200.09L531.36 199.93L533.52 199.58L535.44 198.88L536.16 198.74L536.64 198.79L538.32 199.34L539.52 199.59L541.2 199.7L543.36 199.66L546.24 199.39L547.44 199.17L548.64 198.84L549.6 198.46L550.32 198.06L551.04 197.52L551.52 197.04L552.48 195.65L553.2 194.05L553.92 191.77L555.12 186.92L555.6 185.69L555.84 185.51L556.08 185.66L556.56 186.83L557.76 191.5L558.24 193.04L558.72 194.25L559.44 195.54L559.92 196.15L560.4 196.6L561.36 197.17L562.56 197.48L564 197.44L564.96 197.2L565.92 196.77L566.88 196.08L567.6 195.33L568.32 194.29L568.8 193.38L569.28 192.22L569.76 190.74L570.48 187.7L571.2 183.22L571.92 176.83L573.12 163.97L573.36 162.23L573.6 161.25L573.84 161.16L574.08 161.95L574.56 165.72L576 180.79L576.48 184.43L577.2 188.43L577.92 191.13L578.4 192.42L578.88 193.43L579.84 194.83L580.32 195.3L581.04 195.8L581.76 196.1L582.48 196.22L583.2 196.16L583.68 196.02L584.4 195.62L584.88 195.2L585.36 194.61L585.84 193.82L586.56 192.1L587.04 190.5L587.52 188.45L588.72 182.21L589.2 180.65L589.44 180.45L589.68 180.69L589.92 181.34L591.6 189.89L592.08 191.8L592.8 193.92L593.52 195.36L594.48 196.62L595.68 197.57L597.12 198.2L598.8 198.55L600.48 198.63L602.16 198.42L603.36 197.98L604.08 197.53L604.8 196.85L605.52 195.85L606.96 193.25L607.44 192.8L607.68 192.77L608.16 193.05L609.36 194.33L609.84 194.56L610.32 194.53L611.52 193.9L612 193.91L612.24 194.06L612.72 194.62L613.92 196.46L614.64 197.3L615.6 198.01L616.8 198.48L618.24 198.66L619.44 198.54L620.4 198.23L621.84 197.43L622.56 197.2L623.04 197.25L624.24 197.75L624.96 197.96L625.68 198.01L626.4 197.89L627.12 197.6L627.6 197.29L628.32 196.59L628.8 195.93L629.28 195.06L629.76 193.95L630.96 190.57L631.44 189.72L631.68 189.61L631.92 189.73L632.4 190.59L633.6 194L634.32 195.61L634.8 196.4L635.28 197.01L636.24 197.84L636.96 198.24L637.92 198.59L638.88 198.81L640.08 198.96L642.96 199.03L646.08 198.74L647.28 198.5L648.48 198.13L649.44 197.7L650.4 197.06L651.12 196.35L651.6 195.75L653.04 193.36L653.52 192.73L653.76 192.56L654.24 192.5L655.44 193.17L655.92 193.31L656.4 193.26L656.88 193.02L657.6 192.27L658.08 191.5L658.56 190.47L659.04 189.13L659.76 186.36L660.24 183.83L660.72 180.55L661.2 176.32L661.92 167.76L663.12 149.32L663.6 144.19L663.84 143.11L664.08 143.15L664.32 144.22L665.52 155.89L666 159.23L666.24 160.21L666.48 160.74L666.72 160.86L666.96 160.66L667.44 159.89L667.68 159.68L667.92 159.82L668.16 160.47L668.4 161.7L668.88 165.65L669.84 175.7L670.56 181.93L671.28 186.42L672 189.57L672.48 191.13L673.2 192.92L673.92 194.24L674.64 195.24L675.6 196.22L676.56 196.94L677.76 197.6L679.2 198.16L681.36 198.71L684 199.11L687.12 199.36L690 199.42L691.68 199.32L693.12 199.07L694.08 198.73L695.76 197.85L696.24 197.76L696.96 197.96L698.64 198.87L700.08 199.29L702.24 199.52L705.6 199.54L709.44 199.32L712.56 198.87L713.76 198.59L714.96 198.2L715.92 197.77L716.88 197.19L718.08 196.12L719.04 194.81L719.76 193.38L720.48 191.37L720.96 189.58L721.44 187.35L723.12 177.75L723.6 176.16L723.84 175.71L724.56 174.76L725.04 173.55L725.52 171.45L726.48 166.23L726.72 165.52L726.96 165.36L727.2 165.82L727.68 168.43L728.64 176.41L729.36 181.24L729.84 183.37L730.32 184.67L730.56 185.02L730.8 185.19L731.04 185.18L731.28 184.98L731.52 184.61L732 183.38L733.2 179.09L733.44 178.65L733.68 178.58L733.92 178.92L734.4 180.7L735.6 187.51L736.08 189.81L736.8 192.42L737.52 194.24L738.48 195.87L738.96 196.45L739.68 197.14L741.12 198.06L742.8 198.72L745.44 199.31L749.28 199.76L754.32 200.04L761.52 200.24L786 200.46L840 200.55"/>
<path stroke="#ffc0cb" d="M120 159.75L152.64 159.64L158.88 159.5L162.48 159.23L163.92 159L164.88 158.74L165.84 158.34L166.56 157.88L167.28 157.2L167.76 156.59L169.44 153.87L169.68 153.67L169.92 153.59L170.16 153.67L170.64 154.18L171.84 156.22L172.56 157.19L173.28 157.86L174.24 158.43L175.44 158.85L177.12 159.16L179.28 159.35L182.16 159.45L188.16 159.4L190.32 159.24L191.76 159L192.72 158.72L193.68 158.26L194.4 157.72L195.6 156.59L196.08 156.3L196.32 156.26L196.56 156.3L197.04 156.59L198.72 158.1L199.92 158.73L200.88 159.01L202.08 159.22L205.2 159.45L213.84 159.51L217.2 159.41L219.36 159.23L220.8 158.96L221.76 158.63L222.72 158.08L223.92 157.17L224.4 156.94L224.64 156.91L225.12 157.03L226.8 158.23L228 158.8L229.68 159.17L232.08 159.38L238.32 159.44L240.96 159.36L242.88 159.21L244.8 158.81L245.76 158.4L246.96 157.72L247.68 157.52L248.4 157.71L249.84 158.51L250.8 158.86L252 159.11L253.68 159.28L257.04 159.39L262.56 159.38L267.84 159.27L271.44 159.08L273.6 158.85L275.28 158.51L276.48 158.08L277.44 157.51L278.16 156.86L278.88 155.92L279.36 155.08L280.56 152.56L281.04 151.92L281.28 151.83L281.52 151.91L281.76 152.16L283.44 155.44L283.92 156.17L284.64 156.98L285.36 157.53L286.08 157.89L287.04 158.22L288.24 158.46L290.64 158.66L293.76 158.69L297.6 158.55L301.44 158.25L304.08 157.9L306.48 157.44L308.64 156.83L310.32 156.15L312 155.17L313.44 153.93L314.64 152.45L315.36 151.26L315.84 150.29L316.8 147.75L317.52 145.1L318.24 141.49L318.72 138.32L319.2 134.29L319.68 129.14L320.4 118.53L321.12 103.36L322.32 71.15L322.8 62.78L323.04 61.43L323.28 62.24L323.52 65.06L325.2 103.16L325.68 110.79L326.16 115.95L326.4 117.71L326.88 119.86L327.12 120.41L327.84 121.31L328.08 121.82L328.56 123.79L330.24 136.35L330.72 139.2L331.2 141.4L331.92 143.68L332.64 144.99L332.88 145.25L333.36 145.55L333.6 145.59L334.08 145.46L334.56 145.05L334.8 144.73L335.28 143.86L336 141.85L336.48 139.92L336.96 137.37L337.44 134.03L338.16 126.97L338.88 116.41L339.36 106.78L341.04 63.48L341.28 60.24L341.52 59.14L341.76 60.35L342.24 68.76L343.44 101.94L343.92 112.96L344.4 121.72L344.88 128.55L345.36 133.84L345.84 137.96L346.32 141.21L347.04 144.9L347.76 147.58L348.72 150.14L349.2 151.11L349.92 152.3L350.64 153.25L351.36 154.01L352.08 154.63L353.04 155.28L354.96 156.21L357.36 156.89L359.04 157.17L360.96 157.32L362.64 157.31L364.08 157.17L365.28 156.91L366.48 156.44L367.44 155.82L368.16 155.13L369.12 153.71L369.6 152.68L370.08 151.35L370.8 148.61L372.24 141.31L372.48 140.46L372.72 139.97L372.96 139.89L373.2 140.24L373.44 140.95L374.64 146.7L375.36 149.51L375.84 150.81L376.56 151.99L376.8 152.21L377.28 152.41L377.76 152.29L378 152.12L378.72 151.16L379.92 148.97L380.16 148.77L380.4 148.75L380.64 148.94L380.88 149.31L382.56 153.6L383.04 154.54L383.52 155.29L384.24 156.1L384.96 156.66L385.92 157.14L387.12 157.46L388.56 157.57L389.76 157.43L390.96 157.02L391.92 156.37L392.64 155.56L393.12 154.81L393.6 153.85L394.8 150.93L395.28 150.2L395.52 150.1L395.76 150.2L396.24 150.95L397.44 153.89L398.16 155.26L398.88 156.18L399.84 156.9L400.8 157.21L401.76 157.19L402.48 156.95L403.92 156.16L404.4 156.1L405.12 156.45L406.8 157.8L407.76 158.28L409.44 158.74L411.6 159.01L414.48 159.18L418.08 159.26L425.04 159.2L427.68 158.92L428.64 158.67L430.32 158.05L430.8 157.98L431.52 158.11L433.44 158.74L435.12 158.96L438.24 158.94L439.68 158.8L440.88 158.58L441.84 158.31L442.8 157.89L443.52 157.42L444.24 156.72L445.2 155.27L446.64 152.06L447.12 151.37L447.36 151.27L447.6 151.36L448.08 152.05L449.52 155.23L450.48 156.66L451.2 157.34L451.92 157.8L452.88 158.18L453.84 158.41L455.28 158.55L456.72 158.49L457.68 158.3L459.36 157.73L459.84 157.67L460.56 157.8L462.48 158.41L463.92 158.57L466.08 158.45L467.04 158.27L468 157.98L468.72 157.64L469.44 157.16L470.4 156.16L471.36 154.51L472.56 151.74L473.04 151.03L473.28 150.92L473.52 151.01L473.76 151.27L475.44 154.78L475.92 155.55L476.64 156.37L477.36 156.9L478.32 157.29L479.52 157.45L480.72 157.35L481.68 157.09L482.4 156.76L483.12 156.29L483.6 155.86L484.56 154.65L485.04 153.78L485.52 152.65L486.24 150.31L486.72 148.17L487.2 145.46L488.4 137.3L488.88 135.25L489.12 134.97L489.36 135.26L489.84 137.33L491.04 145.54L491.52 148.26L492 150.43L492.72 152.8L493.2 153.95L493.68 154.85L494.16 155.56L494.88 156.37L495.6 156.97L496.32 157.41L498 158.09L499.44 158.45L501.36 158.74L503.52 158.94L506.16 159.07L509.76 159.09L512.16 158.94L513.6 158.66L515.28 158.05L516 157.91L516.48 157.97L517.92 158.45L518.88 158.68L519.84 158.79L521.04 158.78L522.72 158.5L524.4 157.86L525.12 157.68L525.6 157.71L527.28 158.06L528.48 157.97L529.44 157.57L530.16 157.04L531.12 156.17L531.6 155.91L531.84 155.87L532.08 155.92L532.56 156.22L533.76 157.38L534.48 157.92L535.44 158.4L536.4 158.69L537.84 158.92L539.76 159.07L545.28 159.12L550.8 158.92L552.72 158.74L554.16 158.52L555.12 158.29L556.08 157.93L556.8 157.55L558 156.74L558.72 156.46L559.2 156.48L560.64 157.03L561.36 157.21L562.32 157.25L563.28 157.12L564.48 156.75L565.44 156.28L566.4 155.6L567.36 154.63L568.08 153.62L568.8 152.24L569.52 150.34L570 148.65L570.72 145.19L571.44 140.13L572.16 132.89L573.36 117.51L573.84 113.52L574.08 112.87L574.32 113.26L574.56 114.61L574.8 116.73L575.76 127.96L576.48 134.74L576.96 137.74L577.44 139.6L577.92 140.54L578.16 140.75L578.88 141.08L579.12 141.32L579.36 141.73L579.84 143.14L581.04 148.26L581.76 150.82L582.48 152.68L583.2 154L584.16 155.19L585.36 156.14L586.8 156.83L588.72 157.32L590.64 157.53L592.56 157.55L594.48 157.36L596.16 156.99L597.36 156.53L598.56 155.81L599.52 154.91L600.24 153.95L600.96 152.59L601.68 150.68L602.16 149.03L603.6 143.19L604.08 141.77L604.8 140.14L605.28 138.7L606 135.09L607.2 127.21L607.44 126.43L607.68 126.27L607.92 126.78L608.16 127.92L609.6 139.89L610.08 143.25L610.56 145.88L611.04 147.89L611.76 149.98L612.48 151.28L613.2 152L613.92 152.26L614.64 152.07L615.36 151.41L616.08 150.12L616.56 148.83L617.04 147.09L618.72 138.99L618.96 138.35L619.2 138.1L619.44 138.27L619.68 138.83L621.12 145.3L621.6 147.01L622.08 148.21L622.56 148.94L623.04 149.24L623.52 149.13L624 148.6L624.48 147.63L624.72 146.95L625.44 144L626.16 139.51L627.12 132.36L627.36 131.02L627.6 130.16L627.84 129.9L628.08 130.29L628.56 132.75L629.76 142.29L630.24 145.46L630.72 147.98L631.2 149.94L631.92 152.1L632.64 153.59L633.36 154.66L633.84 155.2L634.56 155.83L635.76 156.56L637.44 157.16L639.6 157.55L642.24 157.66L644.64 157.49L646.8 157.04L648.48 156.37L649.44 155.78L650.16 155.17L650.88 154.37L651.36 153.69L652.32 151.79L652.8 150.46L653.28 148.78L654 145.3L654.72 140.24L656.4 123.17L656.64 121.5L656.88 120.57L657.12 120.49L657.36 121.26L657.6 122.77L658.8 134.49L659.52 140.14L660.24 143.73L660.48 144.52L660.96 145.58L661.2 145.87L661.44 146.01L661.68 146L661.92 145.84L662.16 145.54L662.64 144.54L663.84 141.07L664.08 140.68L664.32 140.55L664.56 140.71L664.8 141.12L666 144.6L666.48 145.51L666.72 145.74L666.96 145.81L667.2 145.74L667.44 145.53L668.64 143.62L668.88 143.49L669.12 143.6L669.36 143.98L669.84 145.41L670.8 149.32L671.52 151.79L672 153.05L672.72 154.46L673.68 155.72L674.88 156.69L676.32 157.4L678.24 157.94L681.12 158.35L684.72 158.54L688.56 158.49L691.92 158.19L694.08 157.74L695.76 157.11L697.2 156.21L697.92 155.53L698.4 154.95L699.12 153.82L699.84 152.22L700.56 149.93L701.04 147.85L701.52 145.15L702 141.7L703.44 128.09L703.92 125.16L704.16 124.76L704.4 125.16L704.88 128.09L706.08 139.7L706.8 145.17L707.52 148.99L708.24 151.59L708.72 152.86L709.2 153.86L709.92 155L710.64 155.84L711.36 156.46L712.32 157.07L713.52 157.6L714.72 157.97L717.6 158.48L721.2 158.74L725.52 158.78L729.36 158.56L731.76 158.21L733.68 157.67L734.64 157.25L735.36 156.83L736.56 155.8L737.52 154.51L738.24 153.07L738.96 151.01L739.44 149.13L739.92 146.69L740.4 143.59L741.84 131.31L742.32 128.67L742.56 128.31L742.8 128.68L743.28 131.32L744.48 141.79L744.96 145.27L745.68 149.17L746.4 151.84L746.88 153.14L747.36 154.16L747.84 154.97L748.56 155.9L749.28 156.59L750 157.1L750.96 157.62L752.16 158.08L754.56 158.63L757.92 159.04L762.48 159.3L768.72 159.48L790.8 159.66L840 159.75"/>
</g>
<g clip-path="url(#c2)" fill="none" stroke-width="3.30" stroke-linejoin="miter" stroke-miterlimit="2" stroke-linecap="butt">
<path stroke="#000000" d="M900 404.56L954 404.5L984.6 404.38L1003.2 404.14L1015 403.73L1019.4 403.42L1023 403.02L1026 402.49L1028.4 401.84L1030.4 401.02L1031.4 400.46L1032.2 399.89L1033 399.19L1033.6 398.54L1034.6 397.1L1035.2 395.92L1035.8 394.37L1036.4 392.26L1036.8 390.42L1037.4 386.73L1038.4 378.77L1038.8 376.47L1039 375.83L1039.2 375.5L1039.8 375.2L1040 374.95L1040.4 373.76L1040.6 372.75L1041 369.79L1041.4 365.41L1041.8 359.29L1042.2 350.98L1042.8 332.71L1043.4 303.97L1044 259.86L1045 165.71L1045.2 154.79L1045.4 150.92L1045.6 154.79L1045.8 165.71L1046.8 259.9L1047.2 291.26L1047.6 315.17L1048 332.98L1048.6 351.53L1049 360.16L1049.4 366.73L1049.8 371.78L1050.4 377.3L1051 381.04L1051.4 382.8L1051.8 384.07L1052.2 384.9L1052.6 385.32L1052.8 385.37L1053.2 385.14L1053.6 384.43L1054 383.13L1054.4 381.11L1055 376.19L1055.4 371.14L1055.8 364.15L1056.2 354.79L1057.2 326.36L1057.4 323.11L1057.6 322.05L1057.8 323.39L1058 326.91L1059.4 366.76L1059.8 374.4L1060.4 382.45L1060.8 386.2L1061.2 389.08L1061.6 391.32L1062.2 393.84L1062.8 395.67L1063.4 397.04L1064.2 398.4L1065.2 399.6L1066.2 400.46L1067.4 401.2L1068.8 401.83L1070.4 402.34L1072.2 402.75L1074.4 403.11L1077 403.4L1080.2 403.66L1088.2 404.02L1099.4 404.26L1115.6 404.4L1140 404.5"/>
<path stroke="#ff0000" d="M900 363.73L942.8 363.58L953.8 363.44L961.2 363.22L966.4 362.87L968.4 362.62L970 362.33L971.4 361.96L972.6 361.52L973.6 360.99L974.4 360.42L975.2 359.64L976 358.54L976.6 357.39L977.2 355.82L978 352.66L978.4 350.36L978.8 347.34L979.4 340.81L979.8 334.57L981.2 301.91L981.4 299.07L981.6 298.06L981.8 299.05L982 301.88L983.4 334.46L983.8 340.67L984.2 345.31L984.8 350.16L985.2 352.43L985.6 354.17L986 355.53L986.6 357.05L987.2 358.15L987.8 358.96L988.4 359.56L989.2 360.15L990 360.55L990.8 360.82L991.8 361.02L993 361.1L994 361.04L995 360.85L995.8 360.59L996.6 360.2L997.2 359.78L997.8 359.22L998.4 358.47L998.8 357.81L999.6 355.95L1000.2 353.81L1000.6 351.82L1001 349.18L1001.4 345.65L1002 338L1003.2 316.08L1003.4 313.92L1003.6 313.15L1003.8 313.91L1004 316.06L1005.2 337.9L1005.6 343.33L1006 347.4L1006.4 350.42L1007 353.59L1007.4 355.07L1007.8 356.21L1008.6 357.77L1009.2 358.53L1010 359.17L1010.8 359.51L1011.8 359.58L1012.6 359.35L1013.2 358.96L1013.8 358.31L1014.4 357.27L1015 355.63L1015.6 353.03L1016.2 349.01L1017.2 340.4L1017.4 339.4L1017.6 339.05L1017.8 339.42L1018 340.43L1019.2 350.63L1019.8 354.19L1020.2 355.82L1020.6 357.04L1021 357.95L1021.6 358.92L1022.4 359.74L1023 360.13L1023.6 360.4L1025 360.71L1026.6 360.72L1028.2 360.45L1029.8 359.85L1031 359.06L1032 358.02L1032.8 356.75L1033.4 355.35L1034 353.34L1034.4 351.49L1034.8 349.06L1035.2 345.92L1036.2 336.21L1036.4 334.86L1036.6 334.11L1036.8 334.06L1037 334.65L1038 341.44L1038.4 343.47L1038.8 344.65L1039 344.94L1039.2 345.06L1039.4 345L1039.8 344.41L1040.2 343.2L1040.8 340.12L1041.4 335.2L1041.8 330.52L1042.2 324.3L1042.6 315.99L1043 304.81L1043.4 289.75L1044 257.48L1045 188.67L1045.2 180.67L1045.4 177.82L1045.6 180.61L1045.8 188.55L1046.8 257.06L1047.4 289.1L1047.8 304L1048.2 314.98L1048.6 323.07L1049 329.02L1049.6 335.06L1050.2 338.58L1050.4 339.29L1050.8 340.06L1051 340.13L1051.2 339.97L1051.4 339.57L1051.8 337.96L1052.2 335.12L1052.6 330.85L1053.6 316.98L1053.8 315.46L1054 315.1L1054.2 316.02L1054.4 318.11L1055.6 337.94L1056 342.89L1056.4 346.66L1056.8 349.51L1057.4 352.59L1058 354.71L1058.8 356.64L1059.4 357.66L1060.2 358.66L1061 359.39L1061.8 359.93L1063 360.5L1064.2 360.85L1065.4 361.01L1066.4 360.95L1067 360.8L1067.6 360.5L1068.2 360L1068.6 359.47L1069.2 358.3L1070.4 354.85L1070.6 354.52L1070.8 354.41L1071 354.56L1071.2 354.94L1072.2 358.09L1072.8 359.58L1073.4 360.57L1074 361.22L1075 361.89L1076.2 362.33L1077.8 362.67L1080 362.92L1086.4 363.26L1097.2 363.48L1114 363.62L1140 363.71"/>
<path stroke="#a020f0" d="M900 322.68L915.4 322.5L926.4 322.25L934.6 321.89L940.4 321.41L942.6 321.11L944.6 320.74L946.2 320.33L947.6 319.84L948.8 319.27L950 318.47L950.8 317.74L951.6 316.75L952.4 315.34L953.2 313.25L953.8 310.91L954.4 307.49L954.8 304.29L955.2 300.12L956.4 283.32L956.6 281.45L956.8 280.5L957 280.55L957.2 281.51L958.2 290.72L958.6 292.91L958.8 293.41L959 293.52L959.2 293.23L959.6 291.42L960.2 285.26L960.6 278.34L961 268.77L962 238.99L962.2 235.52L962.4 234.3L962.6 235.57L962.8 239.11L963.8 269.32L964.4 283.2L964.8 289.47L965.2 293.9L965.6 296.92L966 298.84L966.2 299.45L966.4 299.86L966.6 300.06L966.8 300.07L967 299.89L967.2 299.5L967.6 298.06L967.8 296.98L968.2 293.94L968.6 289.49L969 283.4L970 264.36L970.2 262.02L970.4 261.05L970.6 261.58L970.8 263.48L971.8 279.91L972.4 286.23L972.8 288.07L973 288.39L973.2 288.4L973.4 288.19L974 287.17L974.6 286.5L974.8 286.1L975.2 284.45L975.6 281.14L976 275.96L976.8 263.06L977 260.88L977.2 259.77L977.4 259.84L977.6 260.97L978.2 267.26L978.6 270.58L978.8 271.4L979 271.57L979.2 271.07L979.6 268.17L980.4 257.99L980.8 254.77L981 254.44L981.2 254.88L981.8 257.69L982 258.06L982.2 257.77L982.4 256.73L982.8 252.27L983.6 237.39L984 231.87L984.2 230.57L984.4 230.11L984.8 230.04L985 229.47L985.2 228L985.6 221.27L986 208.35L987.2 143.17L987.4 136.53L987.6 134.4L987.8 137.23L988 144.59L989 205.52L989.4 224.63L989.8 238L990.2 246.31L990.4 248.81L990.6 250.3L990.8 250.85L991 250.52L991.4 247.62L992 240.76L992.2 239.17L992.4 238.5L992.6 238.87L992.8 240.14L993.4 245.84L993.6 247.13L993.8 247.69L994 247.41L994.2 246.25L994.4 244.24L995.2 231.07L995.6 226.05L995.8 224.94L996 224.61L996.4 224.65L996.6 224.07L996.8 222.51L997 219.69L997.2 215.36L997.6 201.49L998 179.93L999 108.6L999.2 100.5L999.4 98.19L999.6 102.27L999.8 112.19L1000.8 194.05L1001.4 232.38L1002 257.7L1002.6 274.21L1003 282.04L1003.6 290.66L1004.2 296.77L1004.8 301.24L1005.6 305.55L1006.4 308.62L1007.4 311.36L1008.6 313.65L1009.8 315.26L1011.2 316.6L1012.8 317.67L1014.8 318.59L1017.2 319.3L1019.8 319.75L1022.8 319.99L1025.6 319.96L1027.8 319.72L1029.6 319.33L1031.2 318.72L1032.6 317.86L1033.6 316.93L1034.6 315.53L1035.4 313.85L1036 312.05L1036.8 308.4L1037.2 305.74L1037.6 302.28L1038.2 295.19L1039 283.78L1039.4 280.28L1039.6 279.77L1039.8 280.07L1040.6 284.51L1040.8 285.27L1041 285.62L1041.2 285.5L1041.4 284.87L1041.6 283.72L1042 279.66L1042.6 268.39L1043 256.48L1043.4 240.29L1044.4 190.58L1044.6 184.84L1044.8 182.89L1045 185.11L1045.2 191.12L1046.2 242.39L1046.8 266.35L1047.2 277.52L1047.6 285.78L1048 291.88L1048.4 296.39L1049 301.03L1049.6 303.8L1049.8 304.39L1050.2 305.11L1050.4 305.24L1050.6 305.21L1050.8 305.01L1051.2 304.06L1051.4 303.27L1051.8 300.99L1053 289.93L1053.2 288.76L1053.4 288.36L1053.6 288.84L1053.8 290.16L1055 303.98L1055.4 307.53L1055.8 310.25L1056.2 312.31L1056.8 314.54L1057.4 316.08L1058.2 317.49L1059 318.46L1060 319.3L1061.2 319.99L1062.8 320.61L1064.6 321.07L1066.6 321.42L1069.2 321.73L1072.4 321.99L1080.8 322.36L1093.2 322.6L1111.8 322.76L1140 322.86"/>
<path stroke="#0000ff" d="M900 281.87L919 281.65L932.2 281.33L941.6 280.86L945.2 280.55L948.2 280.18L950.8 279.73L953 279.19L955 278.5L956.6 277.72L958 276.77L959.2 275.64L960.2 274.36L961 272.98L961.8 271.15L962.4 269.34L963 266.99L963.6 263.86L964.4 257.77L964.8 253.47L965.2 247.91L965.8 236.17L966.4 218.38L967.6 164.46L968 151.36L968.2 148.01L968.4 146.55L968.6 146.31L969 146.62L969.4 146.02L969.6 146.11L969.8 147.42L970 150.62L970.2 156.01L971.4 208.89L971.8 222.94L972.2 233.62L972.6 241.59L973 247.53L973.6 253.75L974.2 257.79L974.8 260.37L975.4 261.9L975.6 262.21L976 262.59L976.4 262.65L976.8 262.38L977.4 261.34L978 259.4L978.6 256.24L979 253.21L979.4 249.15L979.8 243.71L980.4 231.9L981 214.26L981.8 185.02L982.2 174.85L982.4 172.25L982.6 171.11L982.8 170.91L983.2 171.1L983.6 170.56L983.8 170.59L984 171.55L984.2 173.98L984.4 178.1L985.8 224.35L986.2 233.64L986.8 243.19L987.2 247.42L987.6 250.42L988 252.5L988.4 253.85L988.8 254.62L989 254.82L989.2 254.9L989.4 254.86L989.6 254.73L990 254.14L990.4 253.13L990.8 251.68L991.2 249.75L991.8 245.77L992.4 240.13L993 232.18L993.8 215.98L994.2 204.19L994.6 188.73L995.2 155.66L995.6 124.57L996.8 -4.5L997.2 -30.59L997.4 -34.04L997.6 -31.75L998.2 -11.09L998.4 -6.48L998.6 -5.16L998.8 -7.44L999 -13.02L999.6 -36.82L999.8 -40.28L1000 -38.1L1000.2 -29.45L1000.4 -14.9L1001.6 100.05L1002 123.22L1002.4 136.33L1002.6 139.53L1002.8 140.8L1003 140.5L1003.6 136.16L1003.8 136.37L1004 138.77L1004.4 150.9L1005.2 189.15L1005.8 213.18L1006.4 229.85L1007 241.17L1007.8 251.12L1008.2 254.69L1008.8 258.9L1009.4 262.12L1010 264.65L1010.6 266.67L1011.4 268.8L1012.2 270.47L1013 271.79L1014 273.09L1015.2 274.28L1016.4 275.18L1017.8 275.95L1019.2 276.5L1020.8 276.91L1022.4 277.11L1024 277.1L1025.4 276.87L1026.8 276.35L1027.8 275.72L1028.8 274.74L1029.6 273.56L1030.2 272.31L1031 269.89L1031.8 266.02L1032.4 261.44L1032.8 257.12L1033.2 251.36L1033.6 243.72L1034.8 212.99L1035 209.89L1035.2 208.67L1035.4 209.54L1035.6 212.29L1036.6 236.51L1037 244.33L1037.4 249.99L1037.8 253.83L1038.2 256.22L1038.6 257.41L1038.8 257.62L1039 257.57L1039.2 257.27L1039.6 255.9L1039.8 254.79L1040.2 251.59L1040.6 246.79L1041 239.92L1041.6 224.63L1042.6 191.33L1042.8 187.5L1043 186.21L1043.2 187.71L1043.4 191.76L1044.4 226.21L1044.8 237.65L1045.2 246.37L1045.6 252.86L1046.2 259.59L1046.6 262.69L1047 265.02L1047.4 266.76L1047.8 268.06L1048.2 269L1048.8 269.85L1049 270L1049.4 270.12L1049.8 269.99L1050.4 269.27L1050.8 268.37L1051.2 267.04L1051.6 265.16L1052.2 260.87L1052.6 256.61L1053 250.8L1053.4 243.1L1054.4 219.82L1054.6 217.14L1054.8 216.24L1055 217.28L1055.2 220.09L1056.6 252.08L1057 258.2L1057.6 264.64L1058 267.63L1058.4 269.92L1058.8 271.69L1059.4 273.68L1060 275.12L1060.6 276.19L1061.4 277.25L1062.4 278.17L1063.4 278.83L1064.6 279.4L1066 279.87L1067.6 280.25L1069.6 280.59L1071.8 280.86L1077.8 281.28L1086.2 281.58L1098.4 281.79L1140 282.03"/>
<path stroke="#ffa500" d="M900 241.07L919 240.86L932.4 240.55L941.8 240.08L945.4 239.78L948.6 239.39L951.2 238.95L953.4 238.42L955.4 237.74L957 236.97L958.4 236.03L959.6 234.92L960.6 233.66L961.4 232.31L962.2 230.51L962.8 228.74L963.4 226.44L964 223.37L964.8 217.41L965.2 213.19L965.6 207.76L966.2 196.27L966.8 178.86L968 126.11L968.4 113.3L968.6 110.02L968.8 108.59L969 108.35L969.4 108.64L969.8 108.04L970 108.12L970.2 109.4L970.4 112.51L970.6 117.77L971.8 169.42L972.2 183.13L972.6 193.55L973 201.31L973.4 207.08L974 213.1L974.6 216.97L975.2 219.38L975.8 220.72L976 220.97L976.4 221.21L976.8 221.09L977 220.9L977.6 219.76L978.2 217.61L978.8 214.1L979.2 210.7L979.8 203.29L980.4 191.74L981 174.47L981.8 145.82L982.2 135.86L982.4 133.31L982.6 132.2L982.8 132.01L983.2 132.21L983.6 131.68L983.8 131.71L984 132.66L984.2 135.05L984.4 139.09L985.8 184.47L986.2 193.58L986.8 202.95L987.2 207.1L987.6 210.04L988 212.07L988.4 213.4L988.8 214.14L989 214.33L989.2 214.4L989.4 214.36L989.6 214.21L990 213.61L990.4 212.59L990.8 211.13L991.2 209.18L991.8 205.16L992.4 199.43L992.8 194.33L993.6 179.54L994 168.76L994.4 154.63L994.8 135.9L995.2 111.08L995.6 78.78L996.6 -20.63L996.8 -34.27L997 -41.91L997.2 -43.01L997.4 -38.29L998 -8.16L998.4 7.03L998.6 9.97L998.8 9.32L999 5.07L999.2 -2.56L1000 -49.77L1000.2 -57.92L1000.4 -61.18L1000.6 -58.96L1000.8 -51.88L1001.4 -18.71L1001.8 -2.49L1002 1.79L1002.2 3.95L1002.6 6.19L1002.8 9.13L1003 15.03L1003.4 37.2L1004.2 100.47L1004.8 139.13L1005.4 165.61L1006 183.35L1006.4 191.93L1007 201.55L1007.6 208.53L1008.2 213.74L1009 218.86L1009.8 222.6L1010.8 226.01L1011.8 228.49L1012.6 230.02L1013.4 231.26L1014.4 232.5L1015.4 233.48L1016.6 234.39L1017.8 235.09L1019.2 235.7L1020.8 236.18L1022.4 236.46L1024 236.54L1025.4 236.41L1026.6 236.12L1027.6 235.69L1028.6 234.99L1029.4 234.14L1030.2 232.89L1031 230.96L1031.8 227.86L1032.4 224.2L1032.8 220.74L1033.2 216.13L1033.6 210.01L1034.8 185.42L1035 182.93L1035.2 181.96L1035.4 182.65L1035.6 184.85L1036.6 204.23L1037 210.49L1037.4 215.04L1037.8 218.14L1038 219.25L1038.4 220.72L1038.6 221.14L1038.8 221.35L1039 221.38L1039.2 221.23L1039.4 220.9L1039.6 220.38L1040.2 217.56L1040.6 214.4L1041 209.88L1041.4 203.55L1042 189.42L1043.2 148.16L1043.4 144.12L1043.6 142.74L1043.8 144.28L1044 148.49L1045 184.44L1045.4 196.42L1045.8 205.57L1046.4 215.14L1046.8 219.56L1047.2 222.91L1048 227.48L1048.4 229.04L1049 230.81L1049.6 232.06L1050.4 233.15L1051.2 233.76L1052 233.95L1052.4 233.89L1052.8 233.73L1053.4 233.23L1054 232.35L1054.6 230.94L1055 229.57L1055.4 227.72L1056 223.63L1056.6 217.16L1057 211.06L1058 192.68L1058.2 190.56L1058.4 189.83L1058.6 190.63L1058.8 192.83L1060.2 217.85L1060.6 222.65L1061.2 227.67L1061.6 230.01L1062 231.8L1062.4 233.18L1063 234.73L1063.6 235.85L1064.2 236.68L1065 237.49L1065.8 238.09L1066.8 238.63L1068 239.09L1069.2 239.43L1070.8 239.75L1074.8 240.24L1080.6 240.59L1088.8 240.84L1100.6 241.02L1140 241.23"/>
<path stroke="#00ff00" d="M900 200.28L919.2 200.07L932.6 199.75L942 199.27L945.6 198.95L948.6 198.57L951.2 198.11L953.4 197.55L955.4 196.84L957 196.02L958.4 195.03L959.6 193.85L960.6 192.5L961.4 191.06L962.2 189.14L962.8 187.24L963.4 184.77L964 181.48L964.8 175.08L965.2 170.55L965.6 164.71L966.2 152.36L966.8 133.65L968 76.93L968.4 63.16L968.6 59.64L968.8 58.1L969 57.85L969.4 58.17L969.8 57.53L970 57.63L970.2 59.01L970.4 62.37L970.6 68.03L971.8 123.64L972.2 138.4L972.6 149.62L973 157.99L973.4 164.22L974 170.73L974.6 174.92L975.2 177.56L975.8 179.05L976 179.34L976.4 179.63L976.8 179.55L977 179.37L977.6 178.22L978.2 176.02L978.8 172.38L979.2 168.85L979.8 161.11L980.4 149.05L981 130.98L981.8 101L982.2 90.58L982.4 87.93L982.6 86.77L982.8 86.59L983.2 86.82L983.6 86.3L983.8 86.35L984 87.36L984.2 89.87L984.4 94.13L985.8 141.82L986.2 151.4L986.8 161.26L987.4 167.32L987.8 169.91L988.2 171.65L988.6 172.72L989 173.22L989.2 173.27L989.4 173.21L989.8 172.73L990 172.32L990.6 170.34L991.2 167.1L991.8 162.26L992.2 157.85L992.6 152.17L993 144.82L993.4 135.24L993.8 122.61L994.4 95.46L994.8 69.88L996 -36.49L996.4 -57.81L996.6 -60.47L996.8 -58.36L997.4 -40.43L997.6 -36.3L997.8 -34.86L998 -36.38L998.2 -40.6L998.8 -58.79L999 -61L999.2 -58.43L999.6 -37.34L1000.6 52.84L1001.2 93.24L1001.6 112.02L1002 125.82L1002.4 135.83L1002.8 142.91L1003.2 147.65L1003.6 150.49L1004 151.88L1004.6 152.94L1004.8 153.52L1006 159.17L1006.2 159.58L1006.4 159.66L1006.6 159.35L1007 157.5L1007.2 155.88L1007.8 147.61L1008.2 138.56L1008.6 126.04L1009.6 87.24L1009.8 82.85L1010 81.5L1010.2 83.5L1010.4 88.55L1011.8 144.93L1012.2 155.74L1012.8 167.16L1013.2 172.5L1013.6 176.6L1014.4 182.33L1014.8 184.37L1015.4 186.75L1016 188.55L1016.8 190.34L1017.4 191.36L1018.2 192.43L1019 193.24L1020 194L1021 194.55L1022.2 195L1023.4 195.26L1024.6 195.35L1025.6 195.28L1026.6 195.07L1027.6 194.66L1028.4 194.13L1029.2 193.36L1029.8 192.54L1030.4 191.42L1030.8 190.45L1031.4 188.49L1032 185.64L1032.6 181.36L1033 177.32L1033.4 171.92L1033.8 164.88L1034.8 143.69L1035 141.12L1035.2 140.06L1035.4 140.65L1035.6 142.74L1036.6 161.33L1037.2 169.3L1037.4 171.05L1037.8 173.35L1038 173.96L1038.2 174.23L1038.4 174.19L1038.6 173.82L1039 172.09L1039.4 168.88L1040 160.53L1040.6 146.62L1041.6 115.96L1041.8 112.45L1042 111.31L1042.2 112.77L1042.4 116.6L1043.4 149.01L1043.8 159.81L1044.2 168.06L1044.8 176.72L1045.2 180.74L1045.6 183.8L1046.4 188.01L1047 190.09L1047.6 191.6L1048.4 193.01L1049.2 193.95L1050.2 194.67L1051.2 195.02L1052.2 195.01L1052.8 194.81L1053.2 194.59L1054 193.86L1054.6 192.95L1055.2 191.58L1055.8 189.49L1056.2 187.49L1056.6 184.81L1057.2 178.91L1057.6 173.33L1058.6 156.03L1058.8 153.83L1059 152.86L1059.2 153.32L1059.4 155.11L1060.8 178.35L1061.2 182.93L1061.8 187.73L1062.2 189.96L1062.6 191.66L1063 192.97L1063.6 194.43L1064.2 195.49L1064.8 196.27L1065.6 197.03L1066.4 197.58L1067.4 198.08L1068.6 198.51L1071.4 199.11L1075.4 199.55L1081 199.86L1089.2 200.08L1100.8 200.25L1140 200.44"/>
<path stroke="#ffc0cb" d="M900 159.49L921.2 159.25L935.4 158.86L940.6 158.6L945 158.25L948.6 157.84L951.6 157.32L954.2 156.65L956.2 155.9L958 154.93L959.4 153.85L960.6 152.58L961.8 150.78L962.8 148.63L963.6 146.25L964.4 142.93L965 139.52L965.6 134.88L966 130.82L966.4 125.66L966.8 118.99L967.2 110.23L967.6 98.49L968.2 72.44L968.6 46.86L969.8 -68.61L970 -82.3L970.2 -88.47L970.4 -85.91L970.6 -75.16L971.6 22.73L972 53.82L972.4 76.75L972.8 93.34L973.2 105.39L973.8 117.73L974.4 125.66L975 130.81L975.4 133.19L975.8 134.91L976.2 136.1L976.6 136.83L976.8 137.04L977.2 137.14L977.6 136.84L978 136.11L978.4 134.89L978.8 133.11L979.2 130.63L979.8 125.12L980.4 116.42L981 102.48L981.6 79.84L982 57.7L983 -14.5L983.2 -23.48L983.4 -26.7L983.6 -23.52L983.8 -14.59L984.8 57.39L985.2 79.46L985.6 95.65L986.2 111.91L986.6 119.12L987 124.39L987.4 128.28L988 132.26L988.6 134.69L989 135.67L989.4 136.23L989.8 136.43L990.2 136.28L990.6 135.8L991 134.99L991.4 133.81L991.8 132.22L992.4 128.91L993 124.16L993.4 119.91L993.8 114.48L994.2 107.48L994.6 98.35L995 86.25L995.6 59.8L996 34L996.6 -21.81L997.2 -93.73L997.4 -100L998.4 -100L998.6 -99.26L999.2 -59.59L999.4 -53.25L999.6 -51.08L999.8 -53.17L1000 -59.43L1000.6 -98.84L1000.8 -100L1001.8 -100L1002 -92.69L1002.6 -20.49L1003.2 35.64L1003.8 71.97L1004.2 88.47L1004.6 100.83L1005 110.25L1005.6 120.61L1006.2 127.95L1006.8 133.34L1007.6 138.55L1008.4 142.27L1009.4 145.61L1010 147.13L1010.6 148.39L1011.4 149.77L1012.4 151.1L1013.6 152.32L1014.8 153.22L1016.2 154L1017.6 154.56L1019.2 154.98L1021 155.23L1022.6 155.27L1024.2 155.09L1025.6 154.71L1026.8 154.13L1027.8 153.38L1028.6 152.51L1029.4 151.28L1030 149.99L1030.8 147.5L1031.6 143.53L1032.2 138.88L1032.6 134.51L1033 128.67L1033.4 120.95L1034.6 89.91L1034.8 86.73L1035 85.44L1035.2 86.22L1035.4 88.89L1036.4 112.46L1037 122.76L1037.4 126.92L1037.8 129.29L1038 129.88L1038.2 130.12L1038.4 130L1038.6 129.53L1039 127.48L1039.4 123.77L1040 114.21L1040.6 98.36L1041.6 63.46L1041.8 59.46L1042 58.15L1042.2 59.79L1042.4 64.13L1043.4 100.86L1043.8 113.07L1044.2 122.4L1044.6 129.37L1045 134.56L1045.4 138.46L1045.8 141.43L1046.2 143.71L1046.6 145.47L1047.2 147.4L1047.8 148.7L1048.4 149.53L1049 149.98L1049.4 150.08L1049.8 150.02L1050.4 149.61L1051 148.75L1051.6 147.26L1052 145.78L1052.4 143.78L1052.8 141.05L1053.4 135L1053.8 129.11L1054.2 121.35L1055.2 97.94L1055.4 95.25L1055.6 94.32L1055.8 95.34L1056 98.14L1057.4 130.03L1057.8 136.13L1058.4 142.54L1058.8 145.52L1059.2 147.79L1059.6 149.55L1060.2 151.52L1060.8 152.94L1061.4 154L1062.2 155.04L1063.2 155.95L1064.2 156.59L1065.4 157.14L1066.8 157.6L1068.4 157.97L1070.4 158.29L1072.6 158.55L1078.4 158.94L1086.8 159.22L1098.8 159.42L1140 159.64"/>
</g>
<g font-family="'Liberation Sans', sans-serif" font-size="24.9px" fill="#000">
<text x="168.00" y="456.6" text-anchor="middle">400</text>
<text x="264.00" y="456.6" text-anchor="middle">600</text>
<text x="360.00" y="456.6" text-anchor="middle">800</text>
<text x="456.00" y="456.6" text-anchor="middle">1000</text>
<text x="552.00" y="456.6" text-anchor="middle">1200</text>
<text x="648.00" y="456.6" text-anchor="middle">1400</text>
<text x="744.00" y="456.6" text-anchor="middle">1600</text>
<text x="840.00" y="456.6" text-anchor="middle">1800</text>
<text x="900.00" y="456.6" text-anchor="middle">2700</text>
<text x="1020.00" y="456.6" text-anchor="middle">3000</text>
<text x="1140.00" y="456.6" text-anchor="middle">3300</text>
<text x="113.6" y="413.70" text-anchor="end">0</text>
<text x="113.6" y="345.70" text-anchor="end">10</text>
<text x="113.6" y="277.70" text-anchor="end">20</text>
<text x="113.6" y="209.70" text-anchor="end">30</text>
<text x="113.6" y="141.70" text-anchor="end">40</text>
<text x="113.6" y="73.70" text-anchor="end">50</text>
<text x="780.8" y="65.4" font-size="26.5px">(a)</text>
</g>
<text x="361.00" y="490.5" font-family="'Liberation Serif', serif" font-size="26.3px" letter-spacing="0.25" fill="#000">Wavenumber <tspan dx="1.5">(cm</tspan><tspan font-size="12.6px" dy="-10.2">−1</tspan><tspan dy="10.2">)</tspan></text>
<text x="918.40" y="490.5" font-family="'Liberation Serif', serif" font-size="26.3px" letter-spacing="0.25" fill="#000">Wavenumber <tspan dx="1.5">(cm</tspan><tspan font-size="12.6px" dy="-10.2">−1</tspan><tspan dy="10.2">)</tspan></text>
<text transform="translate(59.70,300.4) rotate(-90) scale(1.1,1)" font-family="'Liberation Serif', serif" font-size="34.4px" fill="#000" stroke="#000" stroke-width="0.35">ε</text>
<text transform="translate(59.70,279.9) rotate(-90)" font-family="'Liberation Serif', serif" font-size="26.3px" letter-spacing="0.25" fill="#000">(mol<tspan font-size="12.6px" dy="-10.2">−1</tspan><tspan dy="10.2">cm</tspan><tspan font-size="12.6px" dy="-10.2">−1</tspan><tspan dy="10.2">)</tspan></text>
</svg>
</body></html>
